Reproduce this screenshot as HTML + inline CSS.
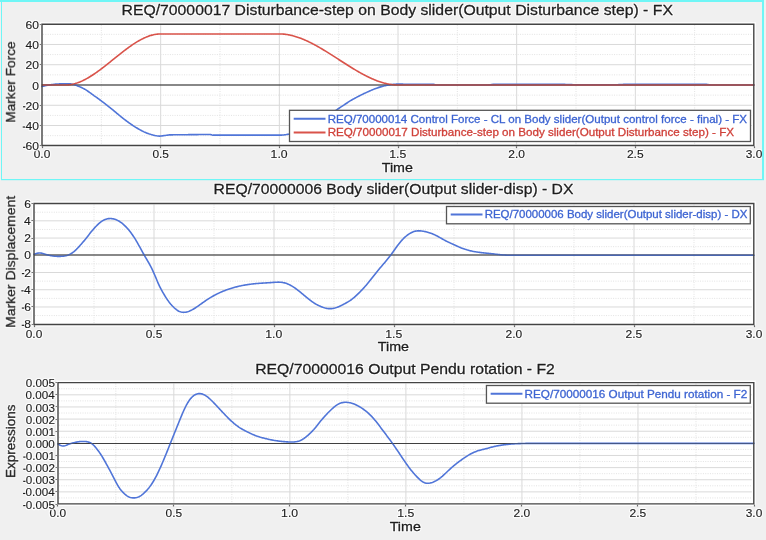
<!DOCTYPE html>
<html><head><meta charset="utf-8"><style>
html,body{margin:0;padding:0;background:#f0f0f0;}
body{-webkit-font-smoothing:antialiased;}
svg{display:block;}
text{font-family:"Liberation Sans", sans-serif;will-change:transform;}
</style></head><body>
<svg width="766" height="540" viewBox="0 0 766 540">
<rect x="0" y="0" width="766" height="540" fill="#f0f0f0"/>
<rect x="40.00" y="22.20" width="715.80" height="125.30" fill="#fff"/>
<line x1="101.33" y1="25.20" x2="101.33" y2="144.50" stroke="#e2e2e2" stroke-width="1" stroke-dasharray="1 1.35"/>
<line x1="160.67" y1="25.20" x2="160.67" y2="144.50" stroke="#d9d9d9" stroke-width="1"/>
<line x1="220.00" y1="25.20" x2="220.00" y2="144.50" stroke="#e2e2e2" stroke-width="1" stroke-dasharray="1 1.35"/>
<line x1="279.33" y1="25.20" x2="279.33" y2="144.50" stroke="#d9d9d9" stroke-width="1"/>
<line x1="338.67" y1="25.20" x2="338.67" y2="144.50" stroke="#e2e2e2" stroke-width="1" stroke-dasharray="1 1.35"/>
<line x1="398.00" y1="25.20" x2="398.00" y2="144.50" stroke="#d9d9d9" stroke-width="1"/>
<line x1="457.33" y1="25.20" x2="457.33" y2="144.50" stroke="#e2e2e2" stroke-width="1" stroke-dasharray="1 1.35"/>
<line x1="516.67" y1="25.20" x2="516.67" y2="144.50" stroke="#d9d9d9" stroke-width="1"/>
<line x1="576.00" y1="25.20" x2="576.00" y2="144.50" stroke="#e2e2e2" stroke-width="1" stroke-dasharray="1 1.35"/>
<line x1="635.33" y1="25.20" x2="635.33" y2="144.50" stroke="#d9d9d9" stroke-width="1"/>
<line x1="694.67" y1="25.20" x2="694.67" y2="144.50" stroke="#e2e2e2" stroke-width="1" stroke-dasharray="1 1.35"/>
<line x1="43.00" y1="34.33" x2="751.80" y2="34.33" stroke="#e2e2e2" stroke-width="1" stroke-dasharray="1 1.35"/>
<line x1="43.00" y1="44.47" x2="751.80" y2="44.47" stroke="#d9d9d9" stroke-width="1"/>
<line x1="43.00" y1="54.60" x2="751.80" y2="54.60" stroke="#e2e2e2" stroke-width="1" stroke-dasharray="1 1.35"/>
<line x1="43.00" y1="64.73" x2="751.80" y2="64.73" stroke="#d9d9d9" stroke-width="1"/>
<line x1="43.00" y1="74.87" x2="751.80" y2="74.87" stroke="#e2e2e2" stroke-width="1" stroke-dasharray="1 1.35"/>
<line x1="43.00" y1="95.13" x2="751.80" y2="95.13" stroke="#e2e2e2" stroke-width="1" stroke-dasharray="1 1.35"/>
<line x1="43.00" y1="105.27" x2="751.80" y2="105.27" stroke="#d9d9d9" stroke-width="1"/>
<line x1="43.00" y1="115.40" x2="751.80" y2="115.40" stroke="#e2e2e2" stroke-width="1" stroke-dasharray="1 1.35"/>
<line x1="43.00" y1="125.53" x2="751.80" y2="125.53" stroke="#d9d9d9" stroke-width="1"/>
<line x1="43.00" y1="135.67" x2="751.80" y2="135.67" stroke="#e2e2e2" stroke-width="1" stroke-dasharray="1 1.35"/>
<line x1="42.00" y1="85.00" x2="753.80" y2="85.00" stroke="#484848" stroke-width="1.2"/>
<path d="M42.00 86.50 L42.79 86.31 L43.58 86.13 L44.37 85.94 L45.16 85.76 L45.96 85.57 L46.75 85.39 L47.54 85.20 L48.33 85.02 L49.12 84.91 L49.91 84.82 L50.70 84.72 L51.49 84.63 L52.28 84.53 L53.08 84.44 L53.87 84.34 L54.66 84.25 L55.45 84.15 L56.24 84.05 L57.03 83.99 L57.82 83.96 L58.61 83.93 L59.40 83.91 L60.20 83.88 L60.99 83.85 L61.78 83.83 L62.57 83.80 L63.36 83.77 L64.15 83.75 L64.94 83.72 L65.73 83.69 L66.52 83.68 L67.32 83.68 L68.11 83.71 L68.90 83.75 L69.69 83.82 L70.48 83.90 L71.27 84.01 L72.06 84.19 L72.85 84.38 L73.64 84.59 L74.44 84.82 L75.23 85.06 L76.02 85.32 L76.81 85.60 L77.60 85.90 L78.39 86.20 L79.18 86.53 L79.97 86.86 L80.76 87.22 L81.56 87.58 L82.35 87.97 L83.14 88.36 L83.93 88.77 L84.72 89.19 L85.51 89.67 L86.30 90.17 L87.09 90.69 L87.88 91.22 L88.68 91.76 L89.47 92.31 L90.26 92.87 L91.05 93.44 L91.84 94.03 L92.63 94.62 L93.42 95.22 L94.21 95.83 L95.00 96.37 L95.80 96.91 L96.59 97.46 L97.38 98.02 L98.17 98.59 L98.96 99.16 L99.75 99.74 L100.54 100.33 L101.33 100.92 L102.12 101.52 L102.92 102.12 L103.71 102.72 L104.50 103.33 L105.29 103.95 L106.08 104.57 L106.87 105.19 L107.66 105.81 L108.45 106.44 L109.24 107.07 L110.04 107.70 L110.83 108.33 L111.62 108.96 L112.41 109.60 L113.20 110.23 L113.99 110.89 L114.78 111.56 L115.57 112.22 L116.36 112.88 L117.16 113.53 L117.95 114.19 L118.74 114.85 L119.53 115.50 L120.32 116.15 L121.11 116.79 L121.90 117.43 L122.69 118.07 L123.48 118.71 L124.28 119.31 L125.07 119.91 L125.86 120.50 L126.65 121.09 L127.44 121.67 L128.23 122.24 L129.02 122.81 L129.81 123.37 L130.60 123.93 L131.40 124.47 L132.19 125.01 L132.98 125.54 L133.77 126.06 L134.56 126.57 L135.35 127.07 L136.14 127.56 L136.93 128.05 L137.72 128.52 L138.52 128.98 L139.31 129.42 L140.10 129.86 L140.89 130.28 L141.68 130.70 L142.47 131.10 L143.26 131.48 L144.05 131.86 L144.84 132.21 L145.64 132.56 L146.43 132.89 L147.22 133.20 L148.01 133.50 L148.80 133.79 L149.59 134.06 L150.38 134.31 L151.17 134.55 L151.96 134.76 L152.76 134.97 L153.55 135.18 L154.34 135.37 L155.13 135.54 L155.92 135.69 L156.71 135.83 L157.50 135.94 L158.29 136.03 L159.08 136.11 L159.88 136.16 L160.67 136.07 L161.46 135.96 L162.25 135.85 L163.04 135.75 L163.83 135.64 L164.62 135.53 L165.41 135.42 L166.20 135.31 L167.00 135.20 L167.79 135.09 L168.58 134.98 L169.37 134.87 L170.16 134.85 L170.95 134.84 L171.74 134.83 L172.53 134.83 L173.32 134.82 L174.12 134.81 L174.91 134.80 L175.70 134.79 L176.49 134.79 L177.28 134.78 L178.07 134.77 L178.86 134.76 L179.65 134.76 L180.44 134.75 L181.24 134.74 L182.03 134.73 L182.82 134.72 L183.61 134.72 L184.40 134.71 L185.19 134.70 L185.98 134.69 L186.77 134.68 L187.56 134.68 L188.36 134.67 L189.15 134.66 L189.94 134.65 L190.73 134.65 L191.52 134.64 L192.31 134.63 L193.10 134.62 L193.89 134.61 L194.68 134.61 L195.48 134.60 L196.27 134.59 L197.06 134.58 L197.85 134.58 L198.64 134.57 L199.43 134.56 L200.22 134.55 L201.01 134.54 L201.80 134.54 L202.60 134.53 L203.39 134.52 L204.18 134.51 L204.97 134.51 L205.76 134.50 L206.55 134.49 L207.34 134.48 L208.13 134.47 L208.92 134.47 L209.72 134.46 L210.51 134.45 L211.30 134.71 L212.09 134.98 L212.88 135.16 L213.67 135.16 L214.46 135.16 L215.25 135.16 L216.04 135.16 L216.84 135.16 L217.63 135.16 L218.42 135.16 L219.21 135.16 L220.00 135.16 L220.79 135.16 L221.58 135.16 L222.37 135.16 L223.16 135.16 L223.96 135.16 L224.75 135.16 L225.54 135.16 L226.33 135.16 L227.12 135.16 L227.91 135.16 L228.70 135.16 L229.49 135.16 L230.28 135.16 L231.08 135.16 L231.87 135.16 L232.66 135.16 L233.45 135.16 L234.24 135.16 L235.03 135.16 L235.82 135.16 L236.61 135.16 L237.40 135.16 L238.20 135.16 L238.99 135.16 L239.78 135.16 L240.57 135.16 L241.36 135.16 L242.15 135.16 L242.94 135.16 L243.73 135.16 L244.52 135.16 L245.32 135.16 L246.11 135.16 L246.90 135.16 L247.69 135.16 L248.48 135.16 L249.27 135.16 L250.06 135.16 L250.85 135.16 L251.64 135.16 L252.44 135.16 L253.23 135.16 L254.02 135.16 L254.81 135.16 L255.60 135.16 L256.39 135.16 L257.18 135.16 L257.97 135.16 L258.76 135.16 L259.56 135.16 L260.35 135.16 L261.14 135.16 L261.93 135.16 L262.72 135.16 L263.51 135.16 L264.30 135.16 L265.09 135.16 L265.88 135.16 L266.68 135.16 L267.47 135.16 L268.26 135.16 L269.05 135.16 L269.84 135.16 L270.63 135.16 L271.42 135.16 L272.21 135.16 L273.00 135.16 L273.80 135.16 L274.59 135.16 L275.38 135.16 L276.17 135.16 L276.96 135.16 L277.75 135.16 L278.54 135.16 L279.33 135.16 L280.12 135.15 L280.92 135.13 L281.71 135.10 L282.50 135.05 L283.29 134.99 L284.08 134.91 L284.87 134.80 L285.66 134.69 L286.45 134.56 L287.24 134.41 L288.04 134.26 L288.83 134.10 L289.62 133.92 L290.41 133.73 L291.20 133.53 L291.99 133.32 L292.78 133.10 L293.57 132.87 L294.36 132.63 L295.16 132.38 L295.95 132.12 L296.74 131.84 L297.53 131.56 L298.32 131.27 L299.11 130.97 L299.90 130.66 L300.69 130.35 L301.48 130.02 L302.28 129.69 L303.07 129.34 L303.86 129.00 L304.65 128.65 L305.44 128.28 L306.23 127.92 L307.02 127.54 L307.81 127.16 L308.60 126.77 L309.40 126.37 L310.19 125.97 L310.98 125.56 L311.77 125.14 L312.56 124.72 L313.35 124.29 L314.14 123.86 L314.93 123.42 L315.72 122.97 L316.52 122.52 L317.31 122.07 L318.10 121.61 L318.89 121.14 L319.68 120.67 L320.47 120.20 L321.26 119.72 L322.05 119.24 L322.84 118.75 L323.64 118.26 L324.43 117.77 L325.22 117.27 L326.01 116.77 L326.80 116.27 L327.59 115.77 L328.38 115.26 L329.17 114.75 L329.96 114.24 L330.76 113.72 L331.55 113.21 L332.34 112.69 L333.13 112.17 L333.92 111.65 L334.71 111.13 L335.50 110.60 L336.29 110.08 L337.08 109.56 L337.88 109.03 L338.67 108.51 L339.46 107.98 L340.25 107.45 L341.04 106.92 L341.83 106.39 L342.62 105.86 L343.41 105.33 L344.20 104.80 L345.00 104.28 L345.79 103.75 L346.58 103.23 L347.37 102.71 L348.16 102.19 L348.95 101.67 L349.74 101.16 L350.53 100.65 L351.32 100.20 L352.12 99.76 L352.91 99.32 L353.70 98.88 L354.49 98.45 L355.28 98.02 L356.07 97.60 L356.86 97.17 L357.65 96.76 L358.44 96.34 L359.24 95.94 L360.03 95.53 L360.82 95.13 L361.61 94.74 L362.40 94.35 L363.19 93.97 L363.98 93.59 L364.77 93.22 L365.56 92.86 L366.36 92.50 L367.15 92.14 L367.94 91.77 L368.73 91.41 L369.52 91.05 L370.31 90.70 L371.10 90.36 L371.89 90.02 L372.68 89.69 L373.48 89.37 L374.27 89.06 L375.06 88.76 L375.85 88.46 L376.64 88.18 L377.43 87.90 L378.22 87.63 L379.01 87.37 L379.80 87.12 L380.60 86.87 L381.39 86.64 L382.18 86.42 L382.97 86.21 L383.76 86.01 L384.55 85.81 L385.34 85.63 L386.13 85.46 L386.92 85.30 L387.72 85.15 L388.51 85.02 L389.30 84.88 L390.09 84.75 L390.88 84.63 L391.67 84.53 L392.46 84.44 L393.25 84.36 L394.04 84.29 L394.84 84.23 L395.63 84.19 L396.42 84.16 L397.21 84.15 L398.00 84.15 L398.79 84.15 L399.58 84.16 L400.37 84.16 L401.16 84.17 L401.96 84.17 L402.75 84.17 L403.54 84.18 L404.33 84.18 L405.12 84.19 L405.91 84.19 L406.70 84.20 L407.49 84.21 L408.28 84.21 L409.08 84.22 L409.87 84.22 L410.66 84.23 L411.45 84.23 L412.24 84.24 L413.03 84.25 L413.82 84.25 L414.61 84.26 L415.40 84.26 L416.20 84.27 L416.99 84.27 L417.78 84.28 L418.57 84.29 L419.36 84.29 L420.15 84.30 L420.94 84.30 L421.73 84.31 L422.52 84.31 L423.32 84.32 L424.11 84.32 L424.90 84.33 L425.69 84.34 L426.48 84.34 L427.27 84.35 L428.06 84.35 L428.85 84.36 L429.64 84.36 L430.44 84.37 L431.23 84.38 L432.02 84.38 L432.81 84.39 L433.60 84.39 L434.39 84.59 L435.18 84.80 L435.97 85.00 L436.76 85.00 L437.56 85.00 L438.35 85.00 L439.14 85.00 L439.93 85.00 L440.72 85.00 L441.51 85.00 L442.30 85.00 L443.09 85.00 L443.88 85.00 L444.68 85.00 L445.47 85.00 L446.26 85.00 L447.05 85.00 L447.84 85.00 L448.63 85.00 L449.42 85.00 L450.21 85.00 L451.00 85.00 L451.80 85.00 L452.59 85.00 L453.38 85.00 L454.17 85.00 L454.96 85.00 L455.75 85.00 L456.54 85.00 L457.33 85.00 L458.12 85.00 L458.92 85.00 L459.71 85.00 L460.50 85.00 L461.29 85.00 L462.08 85.00 L462.87 85.00 L463.66 85.00 L464.45 85.00 L465.24 85.00 L466.04 85.00 L466.83 85.00 L467.62 85.00 L468.41 85.00 L469.20 85.00 L469.99 85.00 L470.78 85.00 L471.57 85.00 L472.36 85.00 L473.16 85.00 L473.95 85.00 L474.74 85.00 L475.53 85.00 L476.32 85.00 L477.11 85.00 L477.90 85.00 L478.69 85.00 L479.48 85.00 L480.28 85.00 L481.07 85.00 L481.86 85.00 L482.65 85.00 L483.44 85.00 L484.23 85.00 L485.02 85.00 L485.81 85.00 L486.60 85.00 L487.40 85.00 L488.19 85.00 L488.98 84.90 L489.77 84.80 L490.56 84.70 L491.35 84.59 L492.14 84.49 L492.93 84.39 L493.72 84.39 L494.52 84.39 L495.31 84.39 L496.10 84.39 L496.89 84.39 L497.68 84.39 L498.47 84.39 L499.26 84.39 L500.05 84.39 L500.84 84.39 L501.64 84.39 L502.43 84.39 L503.22 84.39 L504.01 84.39 L504.80 84.39 L505.59 84.39 L506.38 84.39 L507.17 84.39 L507.96 84.39 L508.76 84.39 L509.55 84.39 L510.34 84.39 L511.13 84.39 L511.92 84.39 L512.71 84.39 L513.50 84.39 L514.29 84.39 L515.08 84.39 L515.88 84.39 L516.67 84.39 L517.46 84.39 L518.25 84.39 L519.04 84.39 L519.83 84.39 L520.62 84.39 L521.41 84.39 L522.20 84.39 L523.00 84.39 L523.79 84.39 L524.58 84.39 L525.37 84.39 L526.16 84.39 L526.95 84.39 L527.74 84.39 L528.53 84.39 L529.32 84.39 L530.12 84.39 L530.91 84.39 L531.70 84.39 L532.49 84.39 L533.28 84.39 L534.07 84.39 L534.86 84.39 L535.65 84.39 L536.44 84.39 L537.24 84.39 L538.03 84.39 L538.82 84.39 L539.61 84.39 L540.40 84.39 L541.19 84.39 L541.98 84.39 L542.77 84.39 L543.56 84.39 L544.36 84.39 L545.15 84.39 L545.94 84.39 L546.73 84.39 L547.52 84.39 L548.31 84.39 L549.10 84.39 L549.89 84.39 L550.68 84.39 L551.48 84.39 L552.27 84.39 L553.06 84.39 L553.85 84.39 L554.64 84.39 L555.43 84.39 L556.22 84.39 L557.01 84.39 L557.80 84.39 L558.60 84.39 L559.39 84.39 L560.18 84.39 L560.97 84.39 L561.76 84.39 L562.55 84.39 L563.34 84.39 L564.13 84.39 L564.92 84.42 L565.72 84.45 L566.51 84.47 L567.30 84.50 L568.09 84.53 L568.88 84.55 L569.67 84.58 L570.46 84.61 L571.25 84.64 L572.04 84.66 L572.84 84.69 L573.63 84.72 L574.42 84.74 L575.21 84.77 L576.00 84.80 L576.79 84.80 L577.58 84.80 L578.37 84.80 L579.16 84.80 L579.96 84.80 L580.75 84.80 L581.54 84.80 L582.33 84.80 L583.12 84.80 L583.91 84.80 L584.70 84.80 L585.49 84.80 L586.28 84.80 L587.08 84.80 L587.87 84.80 L588.66 84.80 L589.45 84.80 L590.24 84.80 L591.03 84.80 L591.82 84.80 L592.61 84.80 L593.40 84.80 L594.20 84.80 L594.99 84.80 L595.78 84.80 L596.57 84.80 L597.36 84.80 L598.15 84.80 L598.94 84.80 L599.73 84.80 L600.52 84.80 L601.32 84.80 L602.11 84.80 L602.90 84.80 L603.69 84.80 L604.48 84.80 L605.27 84.80 L606.06 84.80 L606.85 84.80 L607.64 84.80 L608.44 84.80 L609.23 84.80 L610.02 84.80 L610.81 84.80 L611.60 84.80 L612.39 84.80 L613.18 84.80 L613.97 84.80 L614.76 84.80 L615.56 84.80 L616.35 84.80 L617.14 84.75 L617.93 84.71 L618.72 84.66 L619.51 84.62 L620.30 84.57 L621.09 84.53 L621.88 84.48 L622.68 84.44 L623.47 84.39 L624.26 84.39 L625.05 84.39 L625.84 84.39 L626.63 84.39 L627.42 84.39 L628.21 84.39 L629.00 84.39 L629.80 84.39 L630.59 84.39 L631.38 84.39 L632.17 84.39 L632.96 84.39 L633.75 84.39 L634.54 84.39 L635.33 84.39 L636.12 84.39 L636.92 84.39 L637.71 84.39 L638.50 84.39 L639.29 84.39 L640.08 84.39 L640.87 84.39 L641.66 84.39 L642.45 84.39 L643.24 84.39 L644.04 84.39 L644.83 84.39 L645.62 84.39 L646.41 84.39 L647.20 84.39 L647.99 84.39 L648.78 84.39 L649.57 84.39 L650.36 84.39 L651.16 84.39 L651.95 84.39 L652.74 84.39 L653.53 84.39 L654.32 84.39 L655.11 84.39 L655.90 84.39 L656.69 84.39 L657.48 84.39 L658.28 84.39 L659.07 84.39 L659.86 84.39 L660.65 84.39 L661.44 84.39 L662.23 84.39 L663.02 84.39 L663.81 84.39 L664.60 84.39 L665.40 84.39 L666.19 84.39 L666.98 84.39 L667.77 84.39 L668.56 84.39 L669.35 84.39 L670.14 84.39 L670.93 84.39 L671.72 84.39 L672.52 84.39 L673.31 84.39 L674.10 84.39 L674.89 84.39 L675.68 84.39 L676.47 84.39 L677.26 84.39 L678.05 84.39 L678.84 84.39 L679.64 84.39 L680.43 84.39 L681.22 84.39 L682.01 84.39 L682.80 84.39 L683.59 84.39 L684.38 84.39 L685.17 84.39 L685.96 84.39 L686.76 84.39 L687.55 84.39 L688.34 84.39 L689.13 84.39 L689.92 84.39 L690.71 84.39 L691.50 84.39 L692.29 84.39 L693.08 84.39 L693.88 84.39 L694.67 84.39 L695.46 84.39 L696.25 84.39 L697.04 84.39 L697.83 84.39 L698.62 84.39 L699.41 84.39 L700.20 84.39 L701.00 84.39 L701.79 84.39 L702.58 84.39 L703.37 84.39 L704.16 84.39 L704.95 84.39 L705.74 84.39 L706.53 84.39 L707.32 84.49 L708.12 84.59 L708.91 84.70 L709.70 84.80 L710.49 84.90 L711.28 85.00 L712.07 85.00 L712.86 85.00 L713.65 85.00 L714.44 85.00 L715.24 85.00 L716.03 85.00 L716.82 85.00 L717.61 85.00 L718.40 85.00 L719.19 85.00 L719.98 85.00 L720.77 85.00 L721.56 85.00 L722.36 85.00 L723.15 85.00 L723.94 85.00 L724.73 85.00 L725.52 85.00 L726.31 85.00 L727.10 85.00 L727.89 85.00 L728.68 85.00 L729.48 85.00 L730.27 85.00 L731.06 85.00 L731.85 85.00 L732.64 85.00 L733.43 85.00 L734.22 85.00 L735.01 85.00 L735.80 85.00 L736.60 85.00 L737.39 85.00 L738.18 85.00 L738.97 85.00 L739.76 85.00 L740.55 85.00 L741.34 85.00 L742.13 85.00 L742.92 85.00 L743.72 85.00 L744.51 85.00 L745.30 85.00 L746.09 85.00 L746.88 85.00 L747.67 85.00 L748.46 85.00 L749.25 85.00 L750.04 85.00 L750.84 85.00 L751.63 85.00 L752.42 85.00 L753.21 85.00 L754.00 85.00" fill="none" stroke="#5075d8" stroke-width="1.6" stroke-linejoin="round" stroke-linecap="round" opacity="1"/>
<path d="M42.00 85.00 L42.79 85.00 L43.58 85.00 L44.37 85.00 L45.16 85.00 L45.96 85.00 L46.75 85.00 L47.54 85.00 L48.33 85.00 L49.12 85.00 L49.91 85.00 L50.70 85.00 L51.49 85.00 L52.28 85.00 L53.08 85.00 L53.87 85.00 L54.66 85.00 L55.45 85.00 L56.24 85.00 L57.03 85.00 L57.82 85.00 L58.61 85.00 L59.40 85.00 L60.20 85.00 L60.99 85.00 L61.78 85.00 L62.57 85.00 L63.36 85.00 L64.15 85.00 L64.94 85.00 L65.73 85.00 L66.52 84.99 L67.32 84.96 L68.11 84.91 L68.90 84.83 L69.69 84.74 L70.48 84.63 L71.27 84.50 L72.06 84.35 L72.85 84.18 L73.64 84.00 L74.44 83.79 L75.23 83.57 L76.02 83.33 L76.81 83.08 L77.60 82.81 L78.39 82.52 L79.18 82.22 L79.97 81.90 L80.76 81.56 L81.56 81.22 L82.35 80.86 L83.14 80.48 L83.93 80.09 L84.72 79.69 L85.51 79.27 L86.30 78.85 L87.09 78.41 L87.88 77.96 L88.68 77.49 L89.47 77.02 L90.26 76.54 L91.05 76.04 L91.84 75.54 L92.63 75.02 L93.42 74.50 L94.21 73.97 L95.00 73.43 L95.80 72.88 L96.59 72.32 L97.38 71.76 L98.17 71.19 L98.96 70.61 L99.75 70.03 L100.54 69.44 L101.33 68.84 L102.12 68.24 L102.92 67.63 L103.71 67.02 L104.50 66.41 L105.29 65.79 L106.08 65.17 L106.87 64.54 L107.66 63.91 L108.45 63.28 L109.24 62.65 L110.04 62.01 L110.83 61.38 L111.62 60.74 L112.41 60.10 L113.20 59.46 L113.99 58.83 L114.78 58.19 L115.57 57.55 L116.36 56.91 L117.16 56.28 L117.95 55.65 L118.74 55.02 L119.53 54.39 L120.32 53.76 L121.11 53.14 L121.90 52.52 L122.69 51.91 L123.48 51.29 L124.28 50.69 L125.07 50.09 L125.86 49.49 L126.65 48.90 L127.44 48.32 L128.23 47.74 L129.02 47.17 L129.81 46.61 L130.60 46.05 L131.40 45.50 L132.19 44.96 L132.98 44.43 L133.77 43.90 L134.56 43.39 L135.35 42.89 L136.14 42.39 L136.93 41.91 L137.72 41.43 L138.52 40.97 L139.31 40.52 L140.10 40.08 L140.89 39.65 L141.68 39.24 L142.47 38.84 L143.26 38.45 L144.05 38.07 L144.84 37.71 L145.64 37.36 L146.43 37.03 L147.22 36.71 L148.01 36.41 L148.80 36.12 L149.59 35.85 L150.38 35.60 L151.17 35.36 L151.96 35.14 L152.76 34.93 L153.55 34.75 L154.34 34.58 L155.13 34.43 L155.92 34.30 L156.71 34.19 L157.50 34.09 L158.29 34.02 L159.08 33.97 L159.88 33.94 L160.67 33.93 L161.46 33.93 L162.25 33.93 L163.04 33.93 L163.83 33.93 L164.62 33.93 L165.41 33.93 L166.20 33.93 L167.00 33.93 L167.79 33.93 L168.58 33.93 L169.37 33.93 L170.16 33.93 L170.95 33.93 L171.74 33.93 L172.53 33.93 L173.32 33.93 L174.12 33.93 L174.91 33.93 L175.70 33.93 L176.49 33.93 L177.28 33.93 L178.07 33.93 L178.86 33.93 L179.65 33.93 L180.44 33.93 L181.24 33.93 L182.03 33.93 L182.82 33.93 L183.61 33.93 L184.40 33.93 L185.19 33.93 L185.98 33.93 L186.77 33.93 L187.56 33.93 L188.36 33.93 L189.15 33.93 L189.94 33.93 L190.73 33.93 L191.52 33.93 L192.31 33.93 L193.10 33.93 L193.89 33.93 L194.68 33.93 L195.48 33.93 L196.27 33.93 L197.06 33.93 L197.85 33.93 L198.64 33.93 L199.43 33.93 L200.22 33.93 L201.01 33.93 L201.80 33.93 L202.60 33.93 L203.39 33.93 L204.18 33.93 L204.97 33.93 L205.76 33.93 L206.55 33.93 L207.34 33.93 L208.13 33.93 L208.92 33.93 L209.72 33.93 L210.51 33.93 L211.30 33.93 L212.09 33.93 L212.88 33.93 L213.67 33.93 L214.46 33.93 L215.25 33.93 L216.04 33.93 L216.84 33.93 L217.63 33.93 L218.42 33.93 L219.21 33.93 L220.00 33.93 L220.79 33.93 L221.58 33.93 L222.37 33.93 L223.16 33.93 L223.96 33.93 L224.75 33.93 L225.54 33.93 L226.33 33.93 L227.12 33.93 L227.91 33.93 L228.70 33.93 L229.49 33.93 L230.28 33.93 L231.08 33.93 L231.87 33.93 L232.66 33.93 L233.45 33.93 L234.24 33.93 L235.03 33.93 L235.82 33.93 L236.61 33.93 L237.40 33.93 L238.20 33.93 L238.99 33.93 L239.78 33.93 L240.57 33.93 L241.36 33.93 L242.15 33.93 L242.94 33.93 L243.73 33.93 L244.52 33.93 L245.32 33.93 L246.11 33.93 L246.90 33.93 L247.69 33.93 L248.48 33.93 L249.27 33.93 L250.06 33.93 L250.85 33.93 L251.64 33.93 L252.44 33.93 L253.23 33.93 L254.02 33.93 L254.81 33.93 L255.60 33.93 L256.39 33.93 L257.18 33.93 L257.97 33.93 L258.76 33.93 L259.56 33.93 L260.35 33.93 L261.14 33.93 L261.93 33.93 L262.72 33.93 L263.51 33.93 L264.30 33.93 L265.09 33.93 L265.88 33.93 L266.68 33.93 L267.47 33.93 L268.26 33.93 L269.05 33.93 L269.84 33.93 L270.63 33.93 L271.42 33.93 L272.21 33.93 L273.00 33.93 L273.80 33.93 L274.59 33.93 L275.38 33.93 L276.17 33.93 L276.96 33.93 L277.75 33.93 L278.54 33.93 L279.33 33.93 L280.12 33.93 L280.92 33.95 L281.71 33.99 L282.50 34.04 L283.29 34.09 L284.08 34.17 L284.87 34.25 L285.66 34.35 L286.45 34.46 L287.24 34.58 L288.04 34.71 L288.83 34.86 L289.62 35.01 L290.41 35.18 L291.20 35.36 L291.99 35.55 L292.78 35.75 L293.57 35.96 L294.36 36.18 L295.16 36.41 L295.95 36.65 L296.74 36.90 L297.53 37.16 L298.32 37.43 L299.11 37.71 L299.90 38.00 L300.69 38.30 L301.48 38.60 L302.28 38.92 L303.07 39.24 L303.86 39.57 L304.65 39.91 L305.44 40.26 L306.23 40.61 L307.02 40.97 L307.81 41.34 L308.60 41.72 L309.40 42.10 L310.19 42.49 L310.98 42.89 L311.77 43.29 L312.56 43.70 L313.35 44.11 L314.14 44.53 L314.93 44.96 L315.72 45.39 L316.52 45.83 L317.31 46.27 L318.10 46.72 L318.89 47.17 L319.68 47.63 L320.47 48.09 L321.26 48.55 L322.05 49.02 L322.84 49.49 L323.64 49.97 L324.43 50.45 L325.22 50.93 L326.01 51.42 L326.80 51.91 L327.59 52.40 L328.38 52.89 L329.17 53.39 L329.96 53.89 L330.76 54.39 L331.55 54.89 L332.34 55.39 L333.13 55.90 L333.92 56.41 L334.71 56.91 L335.50 57.42 L336.29 57.93 L337.08 58.44 L337.88 58.95 L338.67 59.46 L339.46 59.97 L340.25 60.49 L341.04 61.00 L341.83 61.50 L342.62 62.01 L343.41 62.52 L344.20 63.03 L345.00 63.53 L345.79 64.04 L346.58 64.54 L347.37 65.04 L348.16 65.54 L348.95 66.04 L349.74 66.53 L350.53 67.02 L351.32 67.51 L352.12 68.00 L352.91 68.48 L353.70 68.96 L354.49 69.44 L355.28 69.91 L356.07 70.38 L356.86 70.84 L357.65 71.30 L358.44 71.76 L359.24 72.21 L360.03 72.66 L360.82 73.10 L361.61 73.54 L362.40 73.97 L363.19 74.39 L363.98 74.82 L364.77 75.23 L365.56 75.64 L366.36 76.04 L367.15 76.44 L367.94 76.83 L368.73 77.21 L369.52 77.59 L370.31 77.96 L371.10 78.32 L371.89 78.67 L372.68 79.02 L373.48 79.36 L374.27 79.69 L375.06 80.01 L375.85 80.33 L376.64 80.63 L377.43 80.93 L378.22 81.22 L379.01 81.50 L379.80 81.77 L380.60 82.03 L381.39 82.28 L382.18 82.52 L382.97 82.75 L383.76 82.97 L384.55 83.18 L385.34 83.38 L386.13 83.57 L386.92 83.75 L387.72 83.92 L388.51 84.07 L389.30 84.22 L390.09 84.35 L390.88 84.47 L391.67 84.58 L392.46 84.68 L393.25 84.76 L394.04 84.83 L394.84 84.89 L395.63 84.94 L396.42 84.97 L397.21 84.99 L398.00 85.00 L398.79 85.00 L399.58 85.00 L400.37 85.00 L401.16 85.00 L401.96 85.00 L402.75 85.00 L403.54 85.00 L404.33 85.00 L405.12 85.00 L405.91 85.00 L406.70 85.00 L407.49 85.00 L408.28 85.00 L409.08 85.00 L409.87 85.00 L410.66 85.00 L411.45 85.00 L412.24 85.00 L413.03 85.00 L413.82 85.00 L414.61 85.00 L415.40 85.00 L416.20 85.00 L416.99 85.00 L417.78 85.00 L418.57 85.00 L419.36 85.00 L420.15 85.00 L420.94 85.00 L421.73 85.00 L422.52 85.00 L423.32 85.00 L424.11 85.00 L424.90 85.00 L425.69 85.00 L426.48 85.00 L427.27 85.00 L428.06 85.00 L428.85 85.00 L429.64 85.00 L430.44 85.00 L431.23 85.00 L432.02 85.00 L432.81 85.00 L433.60 85.00 L434.39 85.00 L435.18 85.00 L435.97 85.00 L436.76 85.00 L437.56 85.00 L438.35 85.00 L439.14 85.00 L439.93 85.00 L440.72 85.00 L441.51 85.00 L442.30 85.00 L443.09 85.00 L443.88 85.00 L444.68 85.00 L445.47 85.00 L446.26 85.00 L447.05 85.00 L447.84 85.00 L448.63 85.00 L449.42 85.00 L450.21 85.00 L451.00 85.00 L451.80 85.00 L452.59 85.00 L453.38 85.00 L454.17 85.00 L454.96 85.00 L455.75 85.00 L456.54 85.00 L457.33 85.00 L458.12 85.00 L458.92 85.00 L459.71 85.00 L460.50 85.00 L461.29 85.00 L462.08 85.00 L462.87 85.00 L463.66 85.00 L464.45 85.00 L465.24 85.00 L466.04 85.00 L466.83 85.00 L467.62 85.00 L468.41 85.00 L469.20 85.00 L469.99 85.00 L470.78 85.00 L471.57 85.00 L472.36 85.00 L473.16 85.00 L473.95 85.00 L474.74 85.00 L475.53 85.00 L476.32 85.00 L477.11 85.00 L477.90 85.00 L478.69 85.00 L479.48 85.00 L480.28 85.00 L481.07 85.00 L481.86 85.00 L482.65 85.00 L483.44 85.00 L484.23 85.00 L485.02 85.00 L485.81 85.00 L486.60 85.00 L487.40 85.00 L488.19 85.00 L488.98 85.00 L489.77 85.00 L490.56 85.00 L491.35 85.00 L492.14 85.00 L492.93 85.00 L493.72 85.00 L494.52 85.00 L495.31 85.00 L496.10 85.00 L496.89 85.00 L497.68 85.00 L498.47 85.00 L499.26 85.00 L500.05 85.00 L500.84 85.00 L501.64 85.00 L502.43 85.00 L503.22 85.00 L504.01 85.00 L504.80 85.00 L505.59 85.00 L506.38 85.00 L507.17 85.00 L507.96 85.00 L508.76 85.00 L509.55 85.00 L510.34 85.00 L511.13 85.00 L511.92 85.00 L512.71 85.00 L513.50 85.00 L514.29 85.00 L515.08 85.00 L515.88 85.00 L516.67 85.00 L517.46 85.00 L518.25 85.00 L519.04 85.00 L519.83 85.00 L520.62 85.00 L521.41 85.00 L522.20 85.00 L523.00 85.00 L523.79 85.00 L524.58 85.00 L525.37 85.00 L526.16 85.00 L526.95 85.00 L527.74 85.00 L528.53 85.00 L529.32 85.00 L530.12 85.00 L530.91 85.00 L531.70 85.00 L532.49 85.00 L533.28 85.00 L534.07 85.00 L534.86 85.00 L535.65 85.00 L536.44 85.00 L537.24 85.00 L538.03 85.00 L538.82 85.00 L539.61 85.00 L540.40 85.00 L541.19 85.00 L541.98 85.00 L542.77 85.00 L543.56 85.00 L544.36 85.00 L545.15 85.00 L545.94 85.00 L546.73 85.00 L547.52 85.00 L548.31 85.00 L549.10 85.00 L549.89 85.00 L550.68 85.00 L551.48 85.00 L552.27 85.00 L553.06 85.00 L553.85 85.00 L554.64 85.00 L555.43 85.00 L556.22 85.00 L557.01 85.00 L557.80 85.00 L558.60 85.00 L559.39 85.00 L560.18 85.00 L560.97 85.00 L561.76 85.00 L562.55 85.00 L563.34 85.00 L564.13 85.00 L564.92 85.00 L565.72 85.00 L566.51 85.00 L567.30 85.00 L568.09 85.00 L568.88 85.00 L569.67 85.00 L570.46 85.00 L571.25 85.00 L572.04 85.00 L572.84 85.00 L573.63 85.00 L574.42 85.00 L575.21 85.00 L576.00 85.00 L576.79 85.00 L577.58 85.00 L578.37 85.00 L579.16 85.00 L579.96 85.00 L580.75 85.00 L581.54 85.00 L582.33 85.00 L583.12 85.00 L583.91 85.00 L584.70 85.00 L585.49 85.00 L586.28 85.00 L587.08 85.00 L587.87 85.00 L588.66 85.00 L589.45 85.00 L590.24 85.00 L591.03 85.00 L591.82 85.00 L592.61 85.00 L593.40 85.00 L594.20 85.00 L594.99 85.00 L595.78 85.00 L596.57 85.00 L597.36 85.00 L598.15 85.00 L598.94 85.00 L599.73 85.00 L600.52 85.00 L601.32 85.00 L602.11 85.00 L602.90 85.00 L603.69 85.00 L604.48 85.00 L605.27 85.00 L606.06 85.00 L606.85 85.00 L607.64 85.00 L608.44 85.00 L609.23 85.00 L610.02 85.00 L610.81 85.00 L611.60 85.00 L612.39 85.00 L613.18 85.00 L613.97 85.00 L614.76 85.00 L615.56 85.00 L616.35 85.00 L617.14 85.00 L617.93 85.00 L618.72 85.00 L619.51 85.00 L620.30 85.00 L621.09 85.00 L621.88 85.00 L622.68 85.00 L623.47 85.00 L624.26 85.00 L625.05 85.00 L625.84 85.00 L626.63 85.00 L627.42 85.00 L628.21 85.00 L629.00 85.00 L629.80 85.00 L630.59 85.00 L631.38 85.00 L632.17 85.00 L632.96 85.00 L633.75 85.00 L634.54 85.00 L635.33 85.00 L636.12 85.00 L636.92 85.00 L637.71 85.00 L638.50 85.00 L639.29 85.00 L640.08 85.00 L640.87 85.00 L641.66 85.00 L642.45 85.00 L643.24 85.00 L644.04 85.00 L644.83 85.00 L645.62 85.00 L646.41 85.00 L647.20 85.00 L647.99 85.00 L648.78 85.00 L649.57 85.00 L650.36 85.00 L651.16 85.00 L651.95 85.00 L652.74 85.00 L653.53 85.00 L654.32 85.00 L655.11 85.00 L655.90 85.00 L656.69 85.00 L657.48 85.00 L658.28 85.00 L659.07 85.00 L659.86 85.00 L660.65 85.00 L661.44 85.00 L662.23 85.00 L663.02 85.00 L663.81 85.00 L664.60 85.00 L665.40 85.00 L666.19 85.00 L666.98 85.00 L667.77 85.00 L668.56 85.00 L669.35 85.00 L670.14 85.00 L670.93 85.00 L671.72 85.00 L672.52 85.00 L673.31 85.00 L674.10 85.00 L674.89 85.00 L675.68 85.00 L676.47 85.00 L677.26 85.00 L678.05 85.00 L678.84 85.00 L679.64 85.00 L680.43 85.00 L681.22 85.00 L682.01 85.00 L682.80 85.00 L683.59 85.00 L684.38 85.00 L685.17 85.00 L685.96 85.00 L686.76 85.00 L687.55 85.00 L688.34 85.00 L689.13 85.00 L689.92 85.00 L690.71 85.00 L691.50 85.00 L692.29 85.00 L693.08 85.00 L693.88 85.00 L694.67 85.00 L695.46 85.00 L696.25 85.00 L697.04 85.00 L697.83 85.00 L698.62 85.00 L699.41 85.00 L700.20 85.00 L701.00 85.00 L701.79 85.00 L702.58 85.00 L703.37 85.00 L704.16 85.00 L704.95 85.00 L705.74 85.00 L706.53 85.00 L707.32 85.00 L708.12 85.00 L708.91 85.00 L709.70 85.00 L710.49 85.00 L711.28 85.00 L712.07 85.00 L712.86 85.00 L713.65 85.00 L714.44 85.00 L715.24 85.00 L716.03 85.00 L716.82 85.00 L717.61 85.00 L718.40 85.00 L719.19 85.00 L719.98 85.00 L720.77 85.00 L721.56 85.00 L722.36 85.00 L723.15 85.00 L723.94 85.00 L724.73 85.00 L725.52 85.00 L726.31 85.00 L727.10 85.00 L727.89 85.00 L728.68 85.00 L729.48 85.00 L730.27 85.00 L731.06 85.00 L731.85 85.00 L732.64 85.00 L733.43 85.00 L734.22 85.00 L735.01 85.00 L735.80 85.00 L736.60 85.00 L737.39 85.00 L738.18 85.00 L738.97 85.00 L739.76 85.00 L740.55 85.00 L741.34 85.00 L742.13 85.00 L742.92 85.00 L743.72 85.00 L744.51 85.00 L745.30 85.00 L746.09 85.00 L746.88 85.00 L747.67 85.00 L748.46 85.00 L749.25 85.00 L750.04 85.00 L750.84 85.00 L751.63 85.00 L752.42 85.00 L753.21 85.00 L754.00 85.00" fill="none" stroke="#d9534a" stroke-width="1.6" stroke-linejoin="round" stroke-linecap="round" opacity="1"/>
<line x1="42.00" y1="85.00" x2="753.80" y2="85.00" stroke="#3a3a3a" stroke-width="1.2" opacity="0.5"/>
<path d="M42.00 24.20 H753.80 V145.50 H42.00 Z" fill="none" stroke="#444" stroke-width="1.4"/>
<line x1="42.50" y1="146.20" x2="42.50" y2="148.10" stroke="#6a6a6a" stroke-width="1.2"/>
<line x1="160.50" y1="146.20" x2="160.50" y2="148.10" stroke="#6a6a6a" stroke-width="1.2"/>
<line x1="279.50" y1="146.20" x2="279.50" y2="148.10" stroke="#6a6a6a" stroke-width="1.2"/>
<line x1="398.50" y1="146.20" x2="398.50" y2="148.10" stroke="#6a6a6a" stroke-width="1.2"/>
<line x1="516.50" y1="146.20" x2="516.50" y2="148.10" stroke="#6a6a6a" stroke-width="1.2"/>
<line x1="635.50" y1="146.20" x2="635.50" y2="148.10" stroke="#6a6a6a" stroke-width="1.2"/>
<line x1="754.50" y1="146.20" x2="754.50" y2="148.10" stroke="#6a6a6a" stroke-width="1.2"/>
<line x1="39.40" y1="44.50" x2="41.30" y2="44.50" stroke="#7a7a7a" stroke-width="1.1"/>
<line x1="39.40" y1="64.50" x2="41.30" y2="64.50" stroke="#7a7a7a" stroke-width="1.1"/>
<line x1="39.40" y1="105.50" x2="41.30" y2="105.50" stroke="#7a7a7a" stroke-width="1.1"/>
<line x1="39.40" y1="125.50" x2="41.30" y2="125.50" stroke="#7a7a7a" stroke-width="1.1"/>
<line x1="39.40" y1="24.50" x2="41.30" y2="24.50" stroke="#7a7a7a" stroke-width="1.1"/>
<line x1="39.40" y1="145.50" x2="41.30" y2="145.50" stroke="#7a7a7a" stroke-width="1.1"/>
<text x="33.74" y="158.00" font-size="11.40" textLength="16.53" lengthAdjust="spacingAndGlyphs" fill="#fff" stroke="#fff" stroke-opacity="0.8" stroke-width="2.4" stroke-linejoin="round">0.0</text>
<text x="33.74" y="158.00" font-size="11.40" textLength="16.53" lengthAdjust="spacingAndGlyphs" fill="#1e1e1e" stroke="#1e1e1e" stroke-width="0.15">0.0</text>
<text x="152.40" y="158.00" font-size="11.40" textLength="16.57" lengthAdjust="spacingAndGlyphs" fill="#fff" stroke="#fff" stroke-opacity="0.8" stroke-width="2.4" stroke-linejoin="round">0.5</text>
<text x="152.40" y="158.00" font-size="11.40" textLength="16.57" lengthAdjust="spacingAndGlyphs" fill="#1e1e1e" stroke="#1e1e1e" stroke-width="0.15">0.5</text>
<text x="270.60" y="158.00" font-size="11.40" textLength="17.01" lengthAdjust="spacingAndGlyphs" fill="#fff" stroke="#fff" stroke-opacity="0.8" stroke-width="2.4" stroke-linejoin="round">1.0</text>
<text x="270.60" y="158.00" font-size="11.40" textLength="17.01" lengthAdjust="spacingAndGlyphs" fill="#1e1e1e" stroke="#1e1e1e" stroke-width="0.15">1.0</text>
<text x="389.27" y="158.00" font-size="11.40" textLength="17.05" lengthAdjust="spacingAndGlyphs" fill="#fff" stroke="#fff" stroke-opacity="0.8" stroke-width="2.4" stroke-linejoin="round">1.5</text>
<text x="389.27" y="158.00" font-size="11.40" textLength="17.05" lengthAdjust="spacingAndGlyphs" fill="#1e1e1e" stroke="#1e1e1e" stroke-width="0.15">1.5</text>
<text x="508.26" y="158.00" font-size="11.40" textLength="16.67" lengthAdjust="spacingAndGlyphs" fill="#fff" stroke="#fff" stroke-opacity="0.8" stroke-width="2.4" stroke-linejoin="round">2.0</text>
<text x="508.26" y="158.00" font-size="11.40" textLength="16.67" lengthAdjust="spacingAndGlyphs" fill="#1e1e1e" stroke="#1e1e1e" stroke-width="0.15">2.0</text>
<text x="626.93" y="158.00" font-size="11.40" textLength="16.71" lengthAdjust="spacingAndGlyphs" fill="#fff" stroke="#fff" stroke-opacity="0.8" stroke-width="2.4" stroke-linejoin="round">2.5</text>
<text x="626.93" y="158.00" font-size="11.40" textLength="16.71" lengthAdjust="spacingAndGlyphs" fill="#1e1e1e" stroke="#1e1e1e" stroke-width="0.15">2.5</text>
<text x="745.75" y="158.00" font-size="11.40" textLength="16.52" lengthAdjust="spacingAndGlyphs" fill="#fff" stroke="#fff" stroke-opacity="0.8" stroke-width="2.4" stroke-linejoin="round">3.0</text>
<text x="745.75" y="158.00" font-size="11.40" textLength="16.52" lengthAdjust="spacingAndGlyphs" fill="#1e1e1e" stroke="#1e1e1e" stroke-width="0.15">3.0</text>
<text x="25.43" y="28.70" font-size="11.40" textLength="13.44" lengthAdjust="spacingAndGlyphs" fill="#fff" stroke="#fff" stroke-opacity="0.8" stroke-width="2.4" stroke-linejoin="round">60</text>
<text x="25.43" y="28.70" font-size="11.40" textLength="13.44" lengthAdjust="spacingAndGlyphs" fill="#1e1e1e" stroke="#1e1e1e" stroke-width="0.15">60</text>
<text x="25.43" y="48.97" font-size="11.40" textLength="13.44" lengthAdjust="spacingAndGlyphs" fill="#fff" stroke="#fff" stroke-opacity="0.8" stroke-width="2.4" stroke-linejoin="round">40</text>
<text x="25.43" y="48.97" font-size="11.40" textLength="13.44" lengthAdjust="spacingAndGlyphs" fill="#1e1e1e" stroke="#1e1e1e" stroke-width="0.15">40</text>
<text x="25.43" y="69.23" font-size="11.40" textLength="13.44" lengthAdjust="spacingAndGlyphs" fill="#fff" stroke="#fff" stroke-opacity="0.8" stroke-width="2.4" stroke-linejoin="round">20</text>
<text x="25.43" y="69.23" font-size="11.40" textLength="13.44" lengthAdjust="spacingAndGlyphs" fill="#1e1e1e" stroke="#1e1e1e" stroke-width="0.15">20</text>
<text x="32.15" y="89.50" font-size="11.40" textLength="6.72" lengthAdjust="spacingAndGlyphs" fill="#fff" stroke="#fff" stroke-opacity="0.8" stroke-width="2.4" stroke-linejoin="round">0</text>
<text x="32.15" y="89.50" font-size="11.40" textLength="6.72" lengthAdjust="spacingAndGlyphs" fill="#1e1e1e" stroke="#1e1e1e" stroke-width="0.15">0</text>
<text x="25.43" y="109.77" font-size="11.40" textLength="13.44" lengthAdjust="spacingAndGlyphs" fill="#fff" stroke="#fff" stroke-opacity="0.8" stroke-width="2.4" stroke-linejoin="round">20</text>
<text x="25.43" y="109.77" font-size="11.40" textLength="13.44" lengthAdjust="spacingAndGlyphs" fill="#1e1e1e" stroke="#1e1e1e" stroke-width="0.15">20</text>
<rect x="22.84" y="105.17" width="2.6" height="3.2" fill="#fff" opacity="0.7"/>
<rect x="23.04" y="106.17" width="2.3" height="1.2" fill="#1e1e1e"/>
<text x="25.43" y="130.03" font-size="11.40" textLength="13.44" lengthAdjust="spacingAndGlyphs" fill="#fff" stroke="#fff" stroke-opacity="0.8" stroke-width="2.4" stroke-linejoin="round">40</text>
<text x="25.43" y="130.03" font-size="11.40" textLength="13.44" lengthAdjust="spacingAndGlyphs" fill="#1e1e1e" stroke="#1e1e1e" stroke-width="0.15">40</text>
<rect x="22.51" y="125.43" width="2.6" height="3.2" fill="#fff" opacity="0.7"/>
<rect x="22.71" y="126.43" width="2.3" height="1.2" fill="#1e1e1e"/>
<text x="25.43" y="150.30" font-size="11.40" textLength="13.44" lengthAdjust="spacingAndGlyphs" fill="#fff" stroke="#fff" stroke-opacity="0.8" stroke-width="2.4" stroke-linejoin="round">60</text>
<text x="25.43" y="150.30" font-size="11.40" textLength="13.44" lengthAdjust="spacingAndGlyphs" fill="#1e1e1e" stroke="#1e1e1e" stroke-width="0.15">60</text>
<rect x="22.84" y="145.70" width="2.6" height="3.2" fill="#fff" opacity="0.7"/>
<rect x="23.04" y="146.70" width="2.3" height="1.2" fill="#1e1e1e"/>
<text x="381.79" y="172.00" font-size="13.20" textLength="31.14" lengthAdjust="spacingAndGlyphs" fill="#fff" stroke="#fff" stroke-opacity="0.8" stroke-width="2.4" stroke-linejoin="round">Time</text>
<text x="381.79" y="172.00" font-size="13.20" textLength="31.14" lengthAdjust="spacingAndGlyphs" fill="#1e1e1e" stroke="#1e1e1e" stroke-width="0.30">Time</text>
<text transform="translate(15.10 122.72) rotate(-90)" x="0" y="0" font-size="13.10" textLength="81.43" lengthAdjust="spacingAndGlyphs" fill="#fff" stroke="#fff" stroke-opacity="0.8" stroke-width="2.4" stroke-linejoin="round">Marker Force</text>
<text transform="translate(15.10 122.72) rotate(-90)" x="0" y="0" font-size="13.10" textLength="81.43" lengthAdjust="spacingAndGlyphs" fill="#1e1e1e" stroke="#1e1e1e" stroke-width="0.30">Marker Force</text>
<text x="121.51" y="15.30" font-size="15.50" textLength="551.42" lengthAdjust="spacingAndGlyphs" fill="#fff" stroke="#fff" stroke-opacity="0.8" stroke-width="2.4" stroke-linejoin="round">REQ/70000017 Disturbance-step on Body slider(Output Disturbance step) - FX</text>
<text x="121.51" y="15.30" font-size="15.50" textLength="551.42" lengthAdjust="spacingAndGlyphs" fill="#1e1e1e" stroke="#1e1e1e" stroke-width="0.30">REQ/70000017 Disturbance-step on Body slider(Output Disturbance step) - FX</text>
<rect x="289.50" y="110.30" width="461.00" height="31.20" fill="#fff" stroke="#555" stroke-width="1.3"/>
<line x1="293.70" y1="118.80" x2="325.50" y2="118.80" stroke="#5075d8" stroke-width="2"/>
<text x="327.65" y="122.60" font-size="11.00" textLength="419.39" lengthAdjust="spacingAndGlyphs" fill="#3d64d2" stroke="#3d64d2" stroke-width="0.30">REQ/70000014 Control Force - CL on Body slider(Output control force - final) - FX</text>
<line x1="293.70" y1="132.60" x2="325.50" y2="132.60" stroke="#d9534a" stroke-width="2"/>
<text x="327.65" y="136.40" font-size="11.00" textLength="406.40" lengthAdjust="spacingAndGlyphs" fill="#d0413a" stroke="#d0413a" stroke-width="0.30">REQ/70000017 Disturbance-step on Body slider(Output Disturbance step) - FX</text>
<rect x="32.00" y="201.50" width="723.80" height="125.00" fill="#fff"/>
<line x1="94.00" y1="204.50" x2="94.00" y2="323.50" stroke="#e2e2e2" stroke-width="1" stroke-dasharray="1 1.35"/>
<line x1="154.00" y1="204.50" x2="154.00" y2="323.50" stroke="#d9d9d9" stroke-width="1"/>
<line x1="214.00" y1="204.50" x2="214.00" y2="323.50" stroke="#e2e2e2" stroke-width="1" stroke-dasharray="1 1.35"/>
<line x1="274.00" y1="204.50" x2="274.00" y2="323.50" stroke="#d9d9d9" stroke-width="1"/>
<line x1="334.00" y1="204.50" x2="334.00" y2="323.50" stroke="#e2e2e2" stroke-width="1" stroke-dasharray="1 1.35"/>
<line x1="394.00" y1="204.50" x2="394.00" y2="323.50" stroke="#d9d9d9" stroke-width="1"/>
<line x1="454.00" y1="204.50" x2="454.00" y2="323.50" stroke="#e2e2e2" stroke-width="1" stroke-dasharray="1 1.35"/>
<line x1="514.00" y1="204.50" x2="514.00" y2="323.50" stroke="#d9d9d9" stroke-width="1"/>
<line x1="574.00" y1="204.50" x2="574.00" y2="323.50" stroke="#e2e2e2" stroke-width="1" stroke-dasharray="1 1.35"/>
<line x1="634.00" y1="204.50" x2="634.00" y2="323.50" stroke="#d9d9d9" stroke-width="1"/>
<line x1="694.00" y1="204.50" x2="694.00" y2="323.50" stroke="#e2e2e2" stroke-width="1" stroke-dasharray="1 1.35"/>
<line x1="35.00" y1="212.21" x2="751.80" y2="212.21" stroke="#e2e2e2" stroke-width="1" stroke-dasharray="1 1.35"/>
<line x1="35.00" y1="220.83" x2="751.80" y2="220.83" stroke="#d9d9d9" stroke-width="1"/>
<line x1="35.00" y1="229.44" x2="751.80" y2="229.44" stroke="#e2e2e2" stroke-width="1" stroke-dasharray="1 1.35"/>
<line x1="35.00" y1="238.06" x2="751.80" y2="238.06" stroke="#d9d9d9" stroke-width="1"/>
<line x1="35.00" y1="246.67" x2="751.80" y2="246.67" stroke="#e2e2e2" stroke-width="1" stroke-dasharray="1 1.35"/>
<line x1="35.00" y1="263.90" x2="751.80" y2="263.90" stroke="#e2e2e2" stroke-width="1" stroke-dasharray="1 1.35"/>
<line x1="35.00" y1="272.51" x2="751.80" y2="272.51" stroke="#d9d9d9" stroke-width="1"/>
<line x1="35.00" y1="281.13" x2="751.80" y2="281.13" stroke="#e2e2e2" stroke-width="1" stroke-dasharray="1 1.35"/>
<line x1="35.00" y1="289.74" x2="751.80" y2="289.74" stroke="#d9d9d9" stroke-width="1"/>
<line x1="35.00" y1="298.36" x2="751.80" y2="298.36" stroke="#e2e2e2" stroke-width="1" stroke-dasharray="1 1.35"/>
<line x1="35.00" y1="306.97" x2="751.80" y2="306.97" stroke="#d9d9d9" stroke-width="1"/>
<line x1="35.00" y1="315.59" x2="751.80" y2="315.59" stroke="#e2e2e2" stroke-width="1" stroke-dasharray="1 1.35"/>
<line x1="34.00" y1="255.00" x2="753.80" y2="255.00" stroke="#484848" stroke-width="1.2"/>
<path d="M34.00 254.33 L34.80 254.04 L35.60 253.76 L36.40 253.50 L37.20 253.29 L38.00 253.12 L38.80 253.01 L39.60 252.98 L40.40 253.02 L41.20 253.13 L42.00 253.29 L42.80 253.49 L43.60 253.71 L44.40 253.96 L45.20 254.21 L46.00 254.45 L46.80 254.68 L47.60 254.90 L48.40 255.10 L49.20 255.29 L50.00 255.46 L50.80 255.62 L51.60 255.77 L52.40 255.90 L53.20 256.01 L54.00 256.10 L54.80 256.18 L55.60 256.25 L56.40 256.30 L57.20 256.34 L58.00 256.36 L58.80 256.37 L59.60 256.36 L60.40 256.34 L61.20 256.31 L62.00 256.27 L62.80 256.20 L63.60 256.11 L64.40 255.99 L65.20 255.84 L66.00 255.66 L66.80 255.44 L67.60 255.19 L68.40 254.89 L69.20 254.55 L70.00 254.17 L70.80 253.74 L71.60 253.26 L72.40 252.73 L73.20 252.16 L74.00 251.53 L74.80 250.85 L75.60 250.12 L76.40 249.35 L77.20 248.54 L78.00 247.71 L78.80 246.85 L79.60 245.97 L80.40 245.08 L81.20 244.17 L82.00 243.25 L82.80 242.32 L83.60 241.38 L84.40 240.42 L85.20 239.45 L86.00 238.46 L86.80 237.45 L87.60 236.43 L88.40 235.40 L89.20 234.37 L90.00 233.35 L90.80 232.34 L91.60 231.35 L92.40 230.39 L93.20 229.45 L94.00 228.53 L94.80 227.65 L95.60 226.79 L96.40 225.96 L97.20 225.17 L98.00 224.40 L98.80 223.67 L99.60 222.98 L100.40 222.32 L101.20 221.71 L102.00 221.15 L102.80 220.64 L103.60 220.19 L104.40 219.79 L105.20 219.45 L106.00 219.17 L106.80 218.95 L107.60 218.78 L108.40 218.65 L109.20 218.58 L110.00 218.55 L110.80 218.56 L111.60 218.62 L112.40 218.72 L113.20 218.86 L114.00 219.05 L114.80 219.28 L115.60 219.55 L116.40 219.86 L117.20 220.22 L118.00 220.62 L118.80 221.06 L119.60 221.54 L120.40 222.06 L121.20 222.63 L122.00 223.23 L122.80 223.88 L123.60 224.57 L124.40 225.30 L125.20 226.07 L126.00 226.88 L126.80 227.73 L127.60 228.63 L128.40 229.56 L129.20 230.54 L130.00 231.55 L130.80 232.60 L131.60 233.68 L132.40 234.81 L133.20 235.97 L134.00 237.17 L134.80 238.41 L135.60 239.70 L136.40 241.04 L137.20 242.42 L138.00 243.83 L138.80 245.27 L139.60 246.73 L140.40 248.20 L141.20 249.67 L142.00 251.13 L142.80 252.58 L143.60 254.01 L144.40 255.42 L145.20 256.79 L146.00 258.16 L146.80 259.51 L147.60 260.88 L148.40 262.26 L149.20 263.67 L150.00 265.13 L150.80 266.63 L151.60 268.19 L152.40 269.83 L153.20 271.55 L154.00 273.35 L154.80 275.22 L155.60 277.13 L156.40 279.05 L157.20 280.95 L158.00 282.81 L158.80 284.61 L159.60 286.31 L160.40 287.92 L161.20 289.45 L162.00 290.90 L162.80 292.31 L163.60 293.67 L164.40 295.00 L165.20 296.31 L166.00 297.59 L166.80 298.83 L167.60 300.03 L168.40 301.16 L169.20 302.24 L170.00 303.24 L170.80 304.19 L171.60 305.09 L172.40 305.95 L173.20 306.76 L174.00 307.54 L174.80 308.28 L175.60 308.98 L176.40 309.63 L177.20 310.22 L178.00 310.74 L178.80 311.19 L179.60 311.56 L180.40 311.85 L181.20 312.07 L182.00 312.22 L182.80 312.30 L183.60 312.33 L184.40 312.30 L185.20 312.23 L186.00 312.10 L186.80 311.92 L187.60 311.70 L188.40 311.45 L189.20 311.15 L190.00 310.82 L190.80 310.45 L191.60 310.06 L192.40 309.64 L193.20 309.19 L194.00 308.72 L194.80 308.23 L195.60 307.72 L196.40 307.19 L197.20 306.65 L198.00 306.10 L198.80 305.54 L199.60 304.97 L200.40 304.40 L201.20 303.83 L202.00 303.25 L202.80 302.68 L203.60 302.11 L204.40 301.55 L205.20 301.00 L206.00 300.45 L206.80 299.92 L207.60 299.39 L208.40 298.87 L209.20 298.37 L210.00 297.87 L210.80 297.38 L211.60 296.90 L212.40 296.44 L213.20 295.98 L214.00 295.54 L214.80 295.11 L215.60 294.69 L216.40 294.27 L217.20 293.87 L218.00 293.48 L218.80 293.10 L219.60 292.73 L220.40 292.37 L221.20 292.02 L222.00 291.68 L222.80 291.34 L223.60 291.02 L224.40 290.70 L225.20 290.39 L226.00 290.09 L226.80 289.80 L227.60 289.52 L228.40 289.24 L229.20 288.97 L230.00 288.71 L230.80 288.46 L231.60 288.21 L232.40 287.97 L233.20 287.73 L234.00 287.50 L234.80 287.28 L235.60 287.07 L236.40 286.86 L237.20 286.65 L238.00 286.46 L238.80 286.27 L239.60 286.08 L240.40 285.91 L241.20 285.74 L242.00 285.58 L242.80 285.42 L243.60 285.27 L244.40 285.13 L245.20 284.99 L246.00 284.86 L246.80 284.73 L247.60 284.61 L248.40 284.50 L249.20 284.39 L250.00 284.28 L250.80 284.18 L251.60 284.08 L252.40 283.99 L253.20 283.89 L254.00 283.81 L254.80 283.72 L255.60 283.64 L256.40 283.57 L257.20 283.49 L258.00 283.43 L258.80 283.36 L259.60 283.30 L260.40 283.24 L261.20 283.18 L262.00 283.13 L262.80 283.08 L263.60 283.03 L264.40 282.98 L265.20 282.94 L266.00 282.90 L266.80 282.85 L267.60 282.81 L268.40 282.76 L269.20 282.71 L270.00 282.66 L270.80 282.61 L271.60 282.55 L272.40 282.49 L273.20 282.42 L274.00 282.36 L274.80 282.30 L275.60 282.25 L276.40 282.21 L277.20 282.18 L278.00 282.17 L278.80 282.17 L279.60 282.19 L280.40 282.24 L281.20 282.31 L282.00 282.41 L282.80 282.53 L283.60 282.68 L284.40 282.86 L285.20 283.07 L286.00 283.32 L286.80 283.60 L287.60 283.91 L288.40 284.25 L289.20 284.62 L290.00 285.01 L290.80 285.44 L291.60 285.89 L292.40 286.37 L293.20 286.87 L294.00 287.39 L294.80 287.94 L295.60 288.50 L296.40 289.09 L297.20 289.69 L298.00 290.30 L298.80 290.93 L299.60 291.57 L300.40 292.22 L301.20 292.88 L302.00 293.55 L302.80 294.22 L303.60 294.89 L304.40 295.56 L305.20 296.23 L306.00 296.90 L306.80 297.56 L307.60 298.21 L308.40 298.85 L309.20 299.49 L310.00 300.11 L310.80 300.71 L311.60 301.30 L312.40 301.87 L313.20 302.42 L314.00 302.95 L314.80 303.45 L315.60 303.94 L316.40 304.39 L317.20 304.83 L318.00 305.24 L318.80 305.63 L319.60 306.00 L320.40 306.35 L321.20 306.68 L322.00 306.99 L322.80 307.28 L323.60 307.55 L324.40 307.79 L325.20 308.01 L326.00 308.20 L326.80 308.36 L327.60 308.49 L328.40 308.59 L329.20 308.65 L330.00 308.67 L330.80 308.65 L331.60 308.60 L332.40 308.51 L333.20 308.39 L334.00 308.23 L334.80 308.04 L335.60 307.82 L336.40 307.57 L337.20 307.29 L338.00 306.98 L338.80 306.65 L339.60 306.30 L340.40 305.93 L341.20 305.55 L342.00 305.15 L342.80 304.74 L343.60 304.32 L344.40 303.89 L345.20 303.46 L346.00 303.02 L346.80 302.57 L347.60 302.10 L348.40 301.62 L349.20 301.12 L350.00 300.60 L350.80 300.05 L351.60 299.48 L352.40 298.87 L353.20 298.24 L354.00 297.57 L354.80 296.88 L355.60 296.17 L356.40 295.43 L357.20 294.68 L358.00 293.90 L358.80 293.11 L359.60 292.31 L360.40 291.49 L361.20 290.67 L362.00 289.83 L362.80 288.98 L363.60 288.11 L364.40 287.23 L365.20 286.34 L366.00 285.42 L366.80 284.49 L367.60 283.53 L368.40 282.56 L369.20 281.57 L370.00 280.56 L370.80 279.54 L371.60 278.52 L372.40 277.49 L373.20 276.46 L374.00 275.43 L374.80 274.41 L375.60 273.40 L376.40 272.40 L377.20 271.42 L378.00 270.45 L378.80 269.49 L379.60 268.54 L380.40 267.59 L381.20 266.65 L382.00 265.72 L382.80 264.79 L383.60 263.85 L384.40 262.92 L385.20 261.97 L386.00 261.02 L386.80 260.06 L387.60 259.09 L388.40 258.09 L389.20 257.08 L390.00 256.04 L390.80 254.98 L391.60 253.90 L392.40 252.79 L393.20 251.68 L394.00 250.55 L394.80 249.42 L395.60 248.30 L396.40 247.18 L397.20 246.09 L398.00 245.01 L398.80 243.96 L399.60 242.94 L400.40 241.96 L401.20 241.02 L402.00 240.12 L402.80 239.27 L403.60 238.45 L404.40 237.68 L405.20 236.94 L406.00 236.25 L406.80 235.60 L407.60 234.98 L408.40 234.41 L409.20 233.88 L410.00 233.38 L410.80 232.93 L411.60 232.52 L412.40 232.15 L413.20 231.83 L414.00 231.55 L414.80 231.32 L415.60 231.14 L416.40 231.01 L417.20 230.92 L418.00 230.87 L418.80 230.85 L419.60 230.87 L420.40 230.92 L421.20 230.99 L422.00 231.08 L422.80 231.18 L423.60 231.30 L424.40 231.44 L425.20 231.60 L426.00 231.77 L426.80 231.96 L427.60 232.17 L428.40 232.40 L429.20 232.65 L430.00 232.92 L430.80 233.20 L431.60 233.50 L432.40 233.82 L433.20 234.16 L434.00 234.52 L434.80 234.88 L435.60 235.27 L436.40 235.66 L437.20 236.08 L438.00 236.50 L438.80 236.93 L439.60 237.38 L440.40 237.83 L441.20 238.28 L442.00 238.74 L442.80 239.19 L443.60 239.64 L444.40 240.08 L445.20 240.52 L446.00 240.94 L446.80 241.35 L447.60 241.75 L448.40 242.14 L449.20 242.51 L450.00 242.88 L450.80 243.25 L451.60 243.61 L452.40 243.97 L453.20 244.33 L454.00 244.70 L454.80 245.07 L455.60 245.43 L456.40 245.80 L457.20 246.17 L458.00 246.53 L458.80 246.88 L459.60 247.23 L460.40 247.57 L461.20 247.89 L462.00 248.21 L462.80 248.51 L463.60 248.80 L464.40 249.08 L465.20 249.35 L466.00 249.60 L466.80 249.85 L467.60 250.08 L468.40 250.30 L469.20 250.51 L470.00 250.71 L470.80 250.90 L471.60 251.08 L472.40 251.25 L473.20 251.41 L474.00 251.56 L474.80 251.70 L475.60 251.83 L476.40 251.96 L477.20 252.08 L478.00 252.20 L478.80 252.31 L479.60 252.41 L480.40 252.51 L481.20 252.61 L482.00 252.71 L482.80 252.80 L483.60 252.89 L484.40 252.97 L485.20 253.06 L486.00 253.14 L486.80 253.22 L487.60 253.29 L488.40 253.37 L489.20 253.44 L490.00 253.52 L490.80 253.59 L491.60 253.68 L492.40 253.78 L493.20 253.87 L494.00 253.98 L494.80 254.08 L495.60 254.18 L496.40 254.28 L497.20 254.38 L498.00 254.48 L498.80 254.57 L499.60 254.66 L500.40 254.74 L501.20 254.82 L502.00 254.89 L502.80 254.95 L503.60 255.01 L504.40 255.06 L505.20 255.11 L506.00 255.15 L506.80 255.18 L507.60 255.21 L508.40 255.23 L509.20 255.25 L510.00 255.26 L510.80 255.27 L511.60 255.28 L512.40 255.28 L513.20 255.29 L514.00 255.29 L514.80 255.29 L515.60 255.29 L516.40 255.29 L517.20 255.29 L518.00 255.29 L518.80 255.29 L519.60 255.29 L520.40 255.29 L521.20 255.29 L522.00 255.29 L522.80 255.29 L523.60 255.29 L524.40 255.29 L525.20 255.29 L526.00 255.29 L526.80 255.29 L527.60 255.29 L528.40 255.29 L529.20 255.29 L530.00 255.29 L530.80 255.29 L531.60 255.29 L532.40 255.29 L533.20 255.29 L534.00 255.29 L534.80 255.29 L535.60 255.29 L536.40 255.29 L537.20 255.29 L538.00 255.29 L538.80 255.29 L539.60 255.29 L540.40 255.29 L541.20 255.29 L542.00 255.29 L542.80 255.29 L543.60 255.29 L544.40 255.29 L545.20 255.29 L546.00 255.29 L546.80 255.29 L547.60 255.29 L548.40 255.29 L549.20 255.29 L550.00 255.29 L550.80 255.29 L551.60 255.29 L552.40 255.29 L553.20 255.29 L554.00 255.29 L554.80 255.29 L555.60 255.29 L556.40 255.29 L557.20 255.29 L558.00 255.29 L558.80 255.29 L559.60 255.29 L560.40 255.29 L561.20 255.29 L562.00 255.29 L562.80 255.29 L563.60 255.29 L564.40 255.29 L565.20 255.29 L566.00 255.29 L566.80 255.29 L567.60 255.29 L568.40 255.29 L569.20 255.29 L570.00 255.29 L570.80 255.29 L571.60 255.29 L572.40 255.29 L573.20 255.29 L574.00 255.29 L574.80 255.29 L575.60 255.29 L576.40 255.29 L577.20 255.29 L578.00 255.29 L578.80 255.29 L579.60 255.29 L580.40 255.29 L581.20 255.29 L582.00 255.29 L582.80 255.29 L583.60 255.29 L584.40 255.29 L585.20 255.29 L586.00 255.29 L586.80 255.29 L587.60 255.29 L588.40 255.29 L589.20 255.29 L590.00 255.29 L590.80 255.29 L591.60 255.29 L592.40 255.29 L593.20 255.29 L594.00 255.29 L594.80 255.29 L595.60 255.29 L596.40 255.29 L597.20 255.29 L598.00 255.29 L598.80 255.29 L599.60 255.29 L600.40 255.29 L601.20 255.29 L602.00 255.29 L602.80 255.29 L603.60 255.29 L604.40 255.29 L605.20 255.29 L606.00 255.29 L606.80 255.29 L607.60 255.29 L608.40 255.29 L609.20 255.29 L610.00 255.29 L610.80 255.29 L611.60 255.29 L612.40 255.29 L613.20 255.29 L614.00 255.29 L614.80 255.29 L615.60 255.29 L616.40 255.29 L617.20 255.29 L618.00 255.29 L618.80 255.29 L619.60 255.29 L620.40 255.29 L621.20 255.29 L622.00 255.29 L622.80 255.29 L623.60 255.29 L624.40 255.29 L625.20 255.29 L626.00 255.29 L626.80 255.29 L627.60 255.29 L628.40 255.29 L629.20 255.29 L630.00 255.29 L630.80 255.29 L631.60 255.29 L632.40 255.29 L633.20 255.29 L634.00 255.29 L634.80 255.29 L635.60 255.29 L636.40 255.29 L637.20 255.29 L638.00 255.29 L638.80 255.29 L639.60 255.29 L640.40 255.29 L641.20 255.29 L642.00 255.29 L642.80 255.29 L643.60 255.29 L644.40 255.29 L645.20 255.29 L646.00 255.29 L646.80 255.29 L647.60 255.29 L648.40 255.29 L649.20 255.29 L650.00 255.29 L650.80 255.29 L651.60 255.29 L652.40 255.29 L653.20 255.29 L654.00 255.29 L654.80 255.29 L655.60 255.29 L656.40 255.29 L657.20 255.29 L658.00 255.29 L658.80 255.29 L659.60 255.29 L660.40 255.29 L661.20 255.29 L662.00 255.29 L662.80 255.29 L663.60 255.29 L664.40 255.29 L665.20 255.29 L666.00 255.29 L666.80 255.29 L667.60 255.29 L668.40 255.29 L669.20 255.29 L670.00 255.29 L670.80 255.29 L671.60 255.29 L672.40 255.29 L673.20 255.29 L674.00 255.29 L674.80 255.29 L675.60 255.29 L676.40 255.29 L677.20 255.29 L678.00 255.29 L678.80 255.29 L679.60 255.29 L680.40 255.29 L681.20 255.29 L682.00 255.29 L682.80 255.29 L683.60 255.29 L684.40 255.29 L685.20 255.29 L686.00 255.29 L686.80 255.29 L687.60 255.29 L688.40 255.29 L689.20 255.29 L690.00 255.29 L690.80 255.29 L691.60 255.29 L692.40 255.29 L693.20 255.29 L694.00 255.29 L694.80 255.29 L695.60 255.29 L696.40 255.29 L697.20 255.29 L698.00 255.29 L698.80 255.29 L699.60 255.29 L700.40 255.29 L701.20 255.29 L702.00 255.29 L702.80 255.29 L703.60 255.29 L704.40 255.29 L705.20 255.29 L706.00 255.29 L706.80 255.29 L707.60 255.29 L708.40 255.29 L709.20 255.29 L710.00 255.29 L710.80 255.29 L711.60 255.29 L712.40 255.29 L713.20 255.29 L714.00 255.29 L714.80 255.29 L715.60 255.29 L716.40 255.29 L717.20 255.29 L718.00 255.29 L718.80 255.29 L719.60 255.29 L720.40 255.29 L721.20 255.29 L722.00 255.29 L722.80 255.29 L723.60 255.29 L724.40 255.29 L725.20 255.29 L726.00 255.29 L726.80 255.29 L727.60 255.29 L728.40 255.29 L729.20 255.29 L730.00 255.29 L730.80 255.29 L731.60 255.29 L732.40 255.29 L733.20 255.29 L734.00 255.29 L734.80 255.29 L735.60 255.29 L736.40 255.29 L737.20 255.29 L738.00 255.29 L738.80 255.29 L739.60 255.29 L740.40 255.29 L741.20 255.29 L742.00 255.29 L742.80 255.29 L743.60 255.29 L744.40 255.29 L745.20 255.29 L746.00 255.29 L746.80 255.29 L747.60 255.29 L748.40 255.29 L749.20 255.29 L750.00 255.29 L750.80 255.29 L751.60 255.29 L752.40 255.29 L753.20 255.29 L754.00 255.29" fill="none" stroke="#5075d8" stroke-width="1.6" stroke-linejoin="round" stroke-linecap="round" opacity="1"/>
<line x1="34.00" y1="255.00" x2="753.80" y2="255.00" stroke="#3a3a3a" stroke-width="1.2" opacity="0.5"/>
<path d="M34.00 203.50 H753.80 V324.50 H34.00 Z" fill="none" stroke="#444" stroke-width="1.4"/>
<line x1="34.50" y1="325.20" x2="34.50" y2="327.10" stroke="#6a6a6a" stroke-width="1.2"/>
<line x1="154.50" y1="325.20" x2="154.50" y2="327.10" stroke="#6a6a6a" stroke-width="1.2"/>
<line x1="274.50" y1="325.20" x2="274.50" y2="327.10" stroke="#6a6a6a" stroke-width="1.2"/>
<line x1="394.50" y1="325.20" x2="394.50" y2="327.10" stroke="#6a6a6a" stroke-width="1.2"/>
<line x1="514.50" y1="325.20" x2="514.50" y2="327.10" stroke="#6a6a6a" stroke-width="1.2"/>
<line x1="634.50" y1="325.20" x2="634.50" y2="327.10" stroke="#6a6a6a" stroke-width="1.2"/>
<line x1="754.50" y1="325.20" x2="754.50" y2="327.10" stroke="#6a6a6a" stroke-width="1.2"/>
<line x1="31.40" y1="220.50" x2="33.30" y2="220.50" stroke="#7a7a7a" stroke-width="1.1"/>
<line x1="31.40" y1="238.50" x2="33.30" y2="238.50" stroke="#7a7a7a" stroke-width="1.1"/>
<line x1="31.40" y1="272.50" x2="33.30" y2="272.50" stroke="#7a7a7a" stroke-width="1.1"/>
<line x1="31.40" y1="289.50" x2="33.30" y2="289.50" stroke="#7a7a7a" stroke-width="1.1"/>
<line x1="31.40" y1="306.50" x2="33.30" y2="306.50" stroke="#7a7a7a" stroke-width="1.1"/>
<line x1="31.40" y1="203.50" x2="33.30" y2="203.50" stroke="#7a7a7a" stroke-width="1.1"/>
<line x1="31.40" y1="324.50" x2="33.30" y2="324.50" stroke="#7a7a7a" stroke-width="1.1"/>
<text x="25.74" y="337.60" font-size="11.40" textLength="16.53" lengthAdjust="spacingAndGlyphs" fill="#fff" stroke="#fff" stroke-opacity="0.8" stroke-width="2.4" stroke-linejoin="round">0.0</text>
<text x="25.74" y="337.60" font-size="11.40" textLength="16.53" lengthAdjust="spacingAndGlyphs" fill="#1e1e1e" stroke="#1e1e1e" stroke-width="0.15">0.0</text>
<text x="145.73" y="337.60" font-size="11.40" textLength="16.57" lengthAdjust="spacingAndGlyphs" fill="#fff" stroke="#fff" stroke-opacity="0.8" stroke-width="2.4" stroke-linejoin="round">0.5</text>
<text x="145.73" y="337.60" font-size="11.40" textLength="16.57" lengthAdjust="spacingAndGlyphs" fill="#1e1e1e" stroke="#1e1e1e" stroke-width="0.15">0.5</text>
<text x="265.27" y="337.60" font-size="11.40" textLength="17.01" lengthAdjust="spacingAndGlyphs" fill="#fff" stroke="#fff" stroke-opacity="0.8" stroke-width="2.4" stroke-linejoin="round">1.0</text>
<text x="265.27" y="337.60" font-size="11.40" textLength="17.01" lengthAdjust="spacingAndGlyphs" fill="#1e1e1e" stroke="#1e1e1e" stroke-width="0.15">1.0</text>
<text x="385.27" y="337.60" font-size="11.40" textLength="17.05" lengthAdjust="spacingAndGlyphs" fill="#fff" stroke="#fff" stroke-opacity="0.8" stroke-width="2.4" stroke-linejoin="round">1.5</text>
<text x="385.27" y="337.60" font-size="11.40" textLength="17.05" lengthAdjust="spacingAndGlyphs" fill="#1e1e1e" stroke="#1e1e1e" stroke-width="0.15">1.5</text>
<text x="505.60" y="337.60" font-size="11.40" textLength="16.67" lengthAdjust="spacingAndGlyphs" fill="#fff" stroke="#fff" stroke-opacity="0.8" stroke-width="2.4" stroke-linejoin="round">2.0</text>
<text x="505.60" y="337.60" font-size="11.40" textLength="16.67" lengthAdjust="spacingAndGlyphs" fill="#1e1e1e" stroke="#1e1e1e" stroke-width="0.15">2.0</text>
<text x="625.60" y="337.60" font-size="11.40" textLength="16.71" lengthAdjust="spacingAndGlyphs" fill="#fff" stroke="#fff" stroke-opacity="0.8" stroke-width="2.4" stroke-linejoin="round">2.5</text>
<text x="625.60" y="337.60" font-size="11.40" textLength="16.71" lengthAdjust="spacingAndGlyphs" fill="#1e1e1e" stroke="#1e1e1e" stroke-width="0.15">2.5</text>
<text x="745.75" y="337.60" font-size="11.40" textLength="16.52" lengthAdjust="spacingAndGlyphs" fill="#fff" stroke="#fff" stroke-opacity="0.8" stroke-width="2.4" stroke-linejoin="round">3.0</text>
<text x="745.75" y="337.60" font-size="11.40" textLength="16.52" lengthAdjust="spacingAndGlyphs" fill="#1e1e1e" stroke="#1e1e1e" stroke-width="0.15">3.0</text>
<text x="24.21" y="207.70" font-size="11.40" textLength="6.72" lengthAdjust="spacingAndGlyphs" fill="#fff" stroke="#fff" stroke-opacity="0.8" stroke-width="2.4" stroke-linejoin="round">6</text>
<text x="24.21" y="207.70" font-size="11.40" textLength="6.72" lengthAdjust="spacingAndGlyphs" fill="#1e1e1e" stroke="#1e1e1e" stroke-width="0.15">6</text>
<text x="24.03" y="224.93" font-size="11.40" textLength="6.72" lengthAdjust="spacingAndGlyphs" fill="#fff" stroke="#fff" stroke-opacity="0.8" stroke-width="2.4" stroke-linejoin="round">4</text>
<text x="24.03" y="224.93" font-size="11.40" textLength="6.72" lengthAdjust="spacingAndGlyphs" fill="#1e1e1e" stroke="#1e1e1e" stroke-width="0.15">4</text>
<text x="24.29" y="242.16" font-size="11.40" textLength="6.72" lengthAdjust="spacingAndGlyphs" fill="#fff" stroke="#fff" stroke-opacity="0.8" stroke-width="2.4" stroke-linejoin="round">2</text>
<text x="24.29" y="242.16" font-size="11.40" textLength="6.72" lengthAdjust="spacingAndGlyphs" fill="#1e1e1e" stroke="#1e1e1e" stroke-width="0.15">2</text>
<text x="24.15" y="259.39" font-size="11.40" textLength="6.72" lengthAdjust="spacingAndGlyphs" fill="#fff" stroke="#fff" stroke-opacity="0.8" stroke-width="2.4" stroke-linejoin="round">0</text>
<text x="24.15" y="259.39" font-size="11.40" textLength="6.72" lengthAdjust="spacingAndGlyphs" fill="#1e1e1e" stroke="#1e1e1e" stroke-width="0.15">0</text>
<text x="24.29" y="276.61" font-size="11.40" textLength="6.72" lengthAdjust="spacingAndGlyphs" fill="#fff" stroke="#fff" stroke-opacity="0.8" stroke-width="2.4" stroke-linejoin="round">2</text>
<text x="24.29" y="276.61" font-size="11.40" textLength="6.72" lengthAdjust="spacingAndGlyphs" fill="#1e1e1e" stroke="#1e1e1e" stroke-width="0.15">2</text>
<rect x="21.69" y="272.01" width="2.6" height="3.2" fill="#fff" opacity="0.7"/>
<rect x="21.89" y="273.01" width="2.3" height="1.2" fill="#1e1e1e"/>
<text x="24.03" y="293.84" font-size="11.40" textLength="6.72" lengthAdjust="spacingAndGlyphs" fill="#fff" stroke="#fff" stroke-opacity="0.8" stroke-width="2.4" stroke-linejoin="round">4</text>
<text x="24.03" y="293.84" font-size="11.40" textLength="6.72" lengthAdjust="spacingAndGlyphs" fill="#1e1e1e" stroke="#1e1e1e" stroke-width="0.15">4</text>
<rect x="21.11" y="289.24" width="2.6" height="3.2" fill="#fff" opacity="0.7"/>
<rect x="21.31" y="290.24" width="2.3" height="1.2" fill="#1e1e1e"/>
<text x="24.21" y="311.07" font-size="11.40" textLength="6.72" lengthAdjust="spacingAndGlyphs" fill="#fff" stroke="#fff" stroke-opacity="0.8" stroke-width="2.4" stroke-linejoin="round">6</text>
<text x="24.21" y="311.07" font-size="11.40" textLength="6.72" lengthAdjust="spacingAndGlyphs" fill="#1e1e1e" stroke="#1e1e1e" stroke-width="0.15">6</text>
<rect x="21.62" y="306.47" width="2.6" height="3.2" fill="#fff" opacity="0.7"/>
<rect x="21.82" y="307.47" width="2.3" height="1.2" fill="#1e1e1e"/>
<text x="24.20" y="328.30" font-size="11.40" textLength="6.72" lengthAdjust="spacingAndGlyphs" fill="#fff" stroke="#fff" stroke-opacity="0.8" stroke-width="2.4" stroke-linejoin="round">8</text>
<text x="24.20" y="328.30" font-size="11.40" textLength="6.72" lengthAdjust="spacingAndGlyphs" fill="#1e1e1e" stroke="#1e1e1e" stroke-width="0.15">8</text>
<rect x="21.53" y="323.70" width="2.6" height="3.2" fill="#fff" opacity="0.7"/>
<rect x="21.73" y="324.70" width="2.3" height="1.2" fill="#1e1e1e"/>
<text x="377.89" y="351.30" font-size="13.20" textLength="31.14" lengthAdjust="spacingAndGlyphs" fill="#fff" stroke="#fff" stroke-opacity="0.8" stroke-width="2.4" stroke-linejoin="round">Time</text>
<text x="377.89" y="351.30" font-size="13.20" textLength="31.14" lengthAdjust="spacingAndGlyphs" fill="#1e1e1e" stroke="#1e1e1e" stroke-width="0.30">Time</text>
<text transform="translate(15.10 327.85) rotate(-90)" x="0" y="0" font-size="13.10" textLength="132.15" lengthAdjust="spacingAndGlyphs" fill="#fff" stroke="#fff" stroke-opacity="0.8" stroke-width="2.4" stroke-linejoin="round">Marker Displacement</text>
<text transform="translate(15.10 327.85) rotate(-90)" x="0" y="0" font-size="13.10" textLength="132.15" lengthAdjust="spacingAndGlyphs" fill="#1e1e1e" stroke="#1e1e1e" stroke-width="0.30">Marker Displacement</text>
<text x="213.61" y="194.30" font-size="15.50" textLength="359.82" lengthAdjust="spacingAndGlyphs" fill="#fff" stroke="#fff" stroke-opacity="0.8" stroke-width="2.4" stroke-linejoin="round">REQ/70000006 Body slider(Output slider-disp) - DX</text>
<text x="213.61" y="194.30" font-size="15.50" textLength="359.82" lengthAdjust="spacingAndGlyphs" fill="#1e1e1e" stroke="#1e1e1e" stroke-width="0.30">REQ/70000006 Body slider(Output slider-disp) - DX</text>
<rect x="446.50" y="206.50" width="303.80" height="17.30" fill="#fff" stroke="#555" stroke-width="1.3"/>
<line x1="450.70" y1="214.60" x2="482.50" y2="214.60" stroke="#5075d8" stroke-width="2"/>
<text x="484.66" y="218.40" font-size="11.00" textLength="262.68" lengthAdjust="spacingAndGlyphs" fill="#3d64d2" stroke="#3d64d2" stroke-width="0.30">REQ/70000006 Body slider(Output slider-disp) - DX</text>
<rect x="56.00" y="380.60" width="699.80" height="125.30" fill="#fff"/>
<line x1="115.82" y1="383.60" x2="115.82" y2="502.90" stroke="#e2e2e2" stroke-width="1" stroke-dasharray="1 1.35"/>
<line x1="173.83" y1="383.60" x2="173.83" y2="502.90" stroke="#d9d9d9" stroke-width="1"/>
<line x1="231.85" y1="383.60" x2="231.85" y2="502.90" stroke="#e2e2e2" stroke-width="1" stroke-dasharray="1 1.35"/>
<line x1="289.87" y1="383.60" x2="289.87" y2="502.90" stroke="#d9d9d9" stroke-width="1"/>
<line x1="347.88" y1="383.60" x2="347.88" y2="502.90" stroke="#e2e2e2" stroke-width="1" stroke-dasharray="1 1.35"/>
<line x1="405.90" y1="383.60" x2="405.90" y2="502.90" stroke="#d9d9d9" stroke-width="1"/>
<line x1="463.92" y1="383.60" x2="463.92" y2="502.90" stroke="#e2e2e2" stroke-width="1" stroke-dasharray="1 1.35"/>
<line x1="521.93" y1="383.60" x2="521.93" y2="502.90" stroke="#d9d9d9" stroke-width="1"/>
<line x1="579.95" y1="383.60" x2="579.95" y2="502.90" stroke="#e2e2e2" stroke-width="1" stroke-dasharray="1 1.35"/>
<line x1="637.97" y1="383.60" x2="637.97" y2="502.90" stroke="#d9d9d9" stroke-width="1"/>
<line x1="695.98" y1="383.60" x2="695.98" y2="502.90" stroke="#e2e2e2" stroke-width="1" stroke-dasharray="1 1.35"/>
<line x1="59.00" y1="388.76" x2="751.80" y2="388.76" stroke="#e2e2e2" stroke-width="1" stroke-dasharray="1 1.35"/>
<line x1="59.00" y1="394.83" x2="751.80" y2="394.83" stroke="#d9d9d9" stroke-width="1"/>
<line x1="59.00" y1="400.89" x2="751.80" y2="400.89" stroke="#e2e2e2" stroke-width="1" stroke-dasharray="1 1.35"/>
<line x1="59.00" y1="406.96" x2="751.80" y2="406.96" stroke="#d9d9d9" stroke-width="1"/>
<line x1="59.00" y1="413.02" x2="751.80" y2="413.02" stroke="#e2e2e2" stroke-width="1" stroke-dasharray="1 1.35"/>
<line x1="59.00" y1="419.09" x2="751.80" y2="419.09" stroke="#d9d9d9" stroke-width="1"/>
<line x1="59.00" y1="425.15" x2="751.80" y2="425.15" stroke="#e2e2e2" stroke-width="1" stroke-dasharray="1 1.35"/>
<line x1="59.00" y1="431.22" x2="751.80" y2="431.22" stroke="#d9d9d9" stroke-width="1"/>
<line x1="59.00" y1="437.28" x2="751.80" y2="437.28" stroke="#e2e2e2" stroke-width="1" stroke-dasharray="1 1.35"/>
<line x1="59.00" y1="449.41" x2="751.80" y2="449.41" stroke="#e2e2e2" stroke-width="1" stroke-dasharray="1 1.35"/>
<line x1="59.00" y1="455.48" x2="751.80" y2="455.48" stroke="#d9d9d9" stroke-width="1"/>
<line x1="59.00" y1="461.54" x2="751.80" y2="461.54" stroke="#e2e2e2" stroke-width="1" stroke-dasharray="1 1.35"/>
<line x1="59.00" y1="467.61" x2="751.80" y2="467.61" stroke="#d9d9d9" stroke-width="1"/>
<line x1="59.00" y1="473.68" x2="751.80" y2="473.68" stroke="#e2e2e2" stroke-width="1" stroke-dasharray="1 1.35"/>
<line x1="59.00" y1="479.74" x2="751.80" y2="479.74" stroke="#d9d9d9" stroke-width="1"/>
<line x1="59.00" y1="485.81" x2="751.80" y2="485.81" stroke="#e2e2e2" stroke-width="1" stroke-dasharray="1 1.35"/>
<line x1="59.00" y1="491.87" x2="751.80" y2="491.87" stroke="#d9d9d9" stroke-width="1"/>
<line x1="59.00" y1="497.94" x2="751.80" y2="497.94" stroke="#e2e2e2" stroke-width="1" stroke-dasharray="1 1.35"/>
<line x1="58.00" y1="443.50" x2="753.80" y2="443.50" stroke="#484848" stroke-width="1.2"/>
<path d="M57.80 443.83 L58.57 444.34 L59.35 444.82 L60.12 445.25 L60.89 445.58 L61.67 445.82 L62.44 445.95 L63.21 445.98 L63.99 445.91 L64.76 445.75 L65.54 445.51 L66.31 445.22 L67.08 444.91 L67.86 444.60 L68.63 444.30 L69.40 444.03 L70.18 443.77 L70.95 443.52 L71.72 443.29 L72.50 443.07 L73.27 442.87 L74.04 442.67 L74.82 442.48 L75.59 442.30 L76.37 442.14 L77.14 441.99 L77.91 441.85 L78.69 441.74 L79.46 441.64 L80.23 441.56 L81.01 441.50 L81.78 441.45 L82.55 441.43 L83.33 441.43 L84.10 441.45 L84.87 441.49 L85.65 441.55 L86.42 441.63 L87.20 441.75 L87.97 441.91 L88.74 442.12 L89.52 442.39 L90.29 442.74 L91.06 443.18 L91.84 443.71 L92.61 444.33 L93.38 445.03 L94.16 445.80 L94.93 446.64 L95.70 447.53 L96.48 448.46 L97.25 449.44 L98.02 450.46 L98.80 451.52 L99.57 452.62 L100.35 453.77 L101.12 454.96 L101.89 456.19 L102.67 457.47 L103.44 458.78 L104.21 460.13 L104.99 461.49 L105.76 462.88 L106.53 464.28 L107.31 465.69 L108.08 467.11 L108.85 468.53 L109.63 469.97 L110.40 471.41 L111.18 472.87 L111.95 474.33 L112.72 475.81 L113.50 477.29 L114.27 478.79 L115.04 480.29 L115.82 481.79 L116.59 483.27 L117.36 484.70 L118.14 486.04 L118.91 487.28 L119.68 488.41 L120.46 489.45 L121.23 490.40 L122.01 491.28 L122.78 492.11 L123.55 492.89 L124.33 493.64 L125.10 494.34 L125.87 494.99 L126.65 495.58 L127.42 496.11 L128.19 496.56 L128.97 496.94 L129.74 497.25 L130.51 497.49 L131.29 497.67 L132.06 497.80 L132.83 497.87 L133.61 497.90 L134.38 497.89 L135.16 497.83 L135.93 497.73 L136.70 497.57 L137.48 497.35 L138.25 497.08 L139.02 496.73 L139.80 496.32 L140.57 495.85 L141.34 495.31 L142.12 494.72 L142.89 494.08 L143.66 493.40 L144.44 492.69 L145.21 491.95 L145.99 491.17 L146.76 490.35 L147.53 489.49 L148.31 488.58 L149.08 487.63 L149.85 486.62 L150.63 485.56 L151.40 484.45 L152.17 483.28 L152.95 482.05 L153.72 480.76 L154.49 479.41 L155.27 478.00 L156.04 476.53 L156.82 475.01 L157.59 473.44 L158.36 471.83 L159.14 470.19 L159.91 468.51 L160.68 466.80 L161.46 465.06 L162.23 463.28 L163.00 461.48 L163.78 459.65 L164.55 457.79 L165.32 455.91 L166.10 454.01 L166.87 452.09 L167.64 450.16 L168.42 448.22 L169.19 446.28 L169.97 444.34 L170.74 442.40 L171.51 440.47 L172.29 438.54 L173.06 436.62 L173.83 434.70 L174.61 432.78 L175.38 430.87 L176.15 428.95 L176.93 427.04 L177.70 425.13 L178.47 423.22 L179.25 421.31 L180.02 419.40 L180.80 417.51 L181.57 415.64 L182.34 413.81 L183.12 412.02 L183.89 410.29 L184.66 408.61 L185.44 407.01 L186.21 405.49 L186.98 404.06 L187.76 402.72 L188.53 401.48 L189.30 400.34 L190.08 399.30 L190.85 398.34 L191.63 397.48 L192.40 396.71 L193.17 396.04 L193.95 395.45 L194.72 394.95 L195.49 394.53 L196.27 394.19 L197.04 393.94 L197.81 393.75 L198.59 393.64 L199.36 393.60 L200.13 393.63 L200.91 393.73 L201.68 393.88 L202.45 394.10 L203.23 394.38 L204.00 394.72 L204.78 395.12 L205.55 395.56 L206.32 396.06 L207.10 396.61 L207.87 397.21 L208.64 397.85 L209.42 398.52 L210.19 399.23 L210.96 399.96 L211.74 400.72 L212.51 401.50 L213.28 402.29 L214.06 403.09 L214.83 403.90 L215.61 404.72 L216.38 405.55 L217.15 406.38 L217.93 407.21 L218.70 408.04 L219.47 408.88 L220.25 409.71 L221.02 410.54 L221.79 411.37 L222.57 412.19 L223.34 413.01 L224.11 413.82 L224.89 414.64 L225.66 415.44 L226.44 416.24 L227.21 417.03 L227.98 417.82 L228.76 418.59 L229.53 419.35 L230.30 420.09 L231.08 420.82 L231.85 421.53 L232.62 422.22 L233.40 422.89 L234.17 423.55 L234.94 424.18 L235.72 424.80 L236.49 425.39 L237.26 425.97 L238.04 426.52 L238.81 427.06 L239.59 427.57 L240.36 428.07 L241.13 428.54 L241.91 429.00 L242.68 429.44 L243.45 429.87 L244.23 430.29 L245.00 430.70 L245.77 431.10 L246.55 431.50 L247.32 431.89 L248.09 432.27 L248.87 432.65 L249.64 433.03 L250.42 433.40 L251.19 433.76 L251.96 434.11 L252.74 434.45 L253.51 434.79 L254.28 435.11 L255.06 435.42 L255.83 435.72 L256.60 436.01 L257.38 436.28 L258.15 436.54 L258.92 436.79 L259.70 437.03 L260.47 437.26 L261.25 437.47 L262.02 437.69 L262.79 437.89 L263.57 438.09 L264.34 438.28 L265.11 438.47 L265.89 438.65 L266.66 438.83 L267.43 439.01 L268.21 439.18 L268.98 439.36 L269.75 439.52 L270.53 439.69 L271.30 439.84 L272.07 440.00 L272.85 440.14 L273.62 440.29 L274.40 440.42 L275.17 440.55 L275.94 440.67 L276.72 440.79 L277.49 440.89 L278.26 441.00 L279.04 441.09 L279.81 441.19 L280.58 441.27 L281.36 441.36 L282.13 441.44 L282.90 441.51 L283.68 441.58 L284.45 441.65 L285.23 441.72 L286.00 441.78 L286.77 441.84 L287.55 441.89 L288.32 441.93 L289.09 441.97 L289.87 442.00 L290.64 442.01 L291.41 442.01 L292.19 442.00 L292.96 441.98 L293.73 441.93 L294.51 441.87 L295.28 441.79 L296.06 441.69 L296.83 441.56 L297.60 441.39 L298.38 441.19 L299.15 440.95 L299.92 440.66 L300.70 440.33 L301.47 439.95 L302.24 439.52 L303.02 439.05 L303.79 438.55 L304.56 438.00 L305.34 437.43 L306.11 436.82 L306.88 436.19 L307.66 435.53 L308.43 434.86 L309.21 434.16 L309.98 433.45 L310.75 432.71 L311.53 431.94 L312.30 431.15 L313.07 430.32 L313.85 429.47 L314.62 428.58 L315.39 427.65 L316.17 426.70 L316.94 425.73 L317.71 424.75 L318.49 423.77 L319.26 422.79 L320.04 421.82 L320.81 420.87 L321.58 419.94 L322.36 419.02 L323.13 418.12 L323.90 417.24 L324.68 416.38 L325.45 415.53 L326.22 414.69 L327.00 413.87 L327.77 413.07 L328.54 412.28 L329.32 411.50 L330.09 410.73 L330.87 409.98 L331.64 409.25 L332.41 408.53 L333.19 407.84 L333.96 407.18 L334.73 406.54 L335.51 405.95 L336.28 405.39 L337.05 404.87 L337.83 404.40 L338.60 403.97 L339.37 403.60 L340.15 403.28 L340.92 403.01 L341.69 402.79 L342.47 402.61 L343.24 402.47 L344.02 402.38 L344.79 402.32 L345.56 402.30 L346.34 402.32 L347.11 402.36 L347.88 402.44 L348.66 402.54 L349.43 402.68 L350.20 402.84 L350.98 403.03 L351.75 403.24 L352.52 403.48 L353.30 403.75 L354.07 404.04 L354.85 404.35 L355.62 404.69 L356.39 405.05 L357.17 405.44 L357.94 405.84 L358.71 406.27 L359.49 406.71 L360.26 407.17 L361.03 407.66 L361.81 408.16 L362.58 408.68 L363.35 409.22 L364.13 409.77 L364.90 410.35 L365.68 410.95 L366.45 411.57 L367.22 412.21 L368.00 412.88 L368.77 413.58 L369.54 414.30 L370.32 415.05 L371.09 415.83 L371.86 416.64 L372.64 417.48 L373.41 418.35 L374.18 419.25 L374.96 420.17 L375.73 421.12 L376.50 422.08 L377.28 423.07 L378.05 424.06 L378.83 425.07 L379.60 426.09 L380.37 427.12 L381.15 428.15 L381.92 429.19 L382.69 430.22 L383.47 431.25 L384.24 432.28 L385.01 433.31 L385.79 434.34 L386.56 435.36 L387.33 436.40 L388.11 437.43 L388.88 438.48 L389.66 439.52 L390.43 440.58 L391.20 441.64 L391.98 442.72 L392.75 443.80 L393.52 444.90 L394.30 446.00 L395.07 447.12 L395.84 448.24 L396.62 449.38 L397.39 450.52 L398.16 451.66 L398.94 452.81 L399.71 453.96 L400.49 455.12 L401.26 456.28 L402.03 457.43 L402.81 458.59 L403.58 459.73 L404.35 460.87 L405.13 462.00 L405.90 463.12 L406.67 464.22 L407.45 465.30 L408.22 466.36 L408.99 467.40 L409.77 468.42 L410.54 469.42 L411.31 470.39 L412.09 471.35 L412.86 472.28 L413.64 473.20 L414.41 474.09 L415.18 474.96 L415.96 475.81 L416.73 476.63 L417.50 477.42 L418.28 478.19 L419.05 478.92 L419.82 479.62 L420.60 480.28 L421.37 480.90 L422.14 481.45 L422.92 481.94 L423.69 482.35 L424.47 482.68 L425.24 482.93 L426.01 483.11 L426.79 483.21 L427.56 483.26 L428.33 483.25 L429.11 483.18 L429.88 483.06 L430.65 482.89 L431.43 482.68 L432.20 482.43 L432.97 482.14 L433.75 481.82 L434.52 481.47 L435.30 481.09 L436.07 480.68 L436.84 480.24 L437.62 479.77 L438.39 479.27 L439.16 478.74 L439.94 478.17 L440.71 477.57 L441.48 476.94 L442.26 476.29 L443.03 475.60 L443.80 474.90 L444.58 474.19 L445.35 473.46 L446.12 472.73 L446.90 472.00 L447.67 471.27 L448.45 470.54 L449.22 469.81 L449.99 469.10 L450.77 468.39 L451.54 467.69 L452.31 467.00 L453.09 466.32 L453.86 465.66 L454.63 465.02 L455.41 464.39 L456.18 463.78 L456.95 463.18 L457.73 462.59 L458.50 462.01 L459.28 461.44 L460.05 460.88 L460.82 460.32 L461.60 459.76 L462.37 459.21 L463.14 458.66 L463.92 458.13 L464.69 457.60 L465.46 457.08 L466.24 456.57 L467.01 456.07 L467.78 455.59 L468.56 455.13 L469.33 454.68 L470.11 454.24 L470.88 453.83 L471.65 453.43 L472.43 453.04 L473.20 452.68 L473.97 452.33 L474.75 452.00 L475.52 451.68 L476.29 451.39 L477.07 451.11 L477.84 450.85 L478.61 450.60 L479.39 450.37 L480.16 450.16 L480.93 449.96 L481.71 449.76 L482.48 449.57 L483.26 449.38 L484.03 449.20 L484.80 449.01 L485.58 448.81 L486.35 448.61 L487.12 448.40 L487.90 448.19 L488.67 447.97 L489.44 447.76 L490.22 447.54 L490.99 447.33 L491.76 447.12 L492.54 446.92 L493.31 446.72 L494.09 446.54 L494.86 446.36 L495.63 446.19 L496.41 446.04 L497.18 445.89 L497.95 445.74 L498.73 445.61 L499.50 445.48 L500.27 445.35 L501.05 445.23 L501.82 445.11 L502.59 445.00 L503.37 444.89 L504.14 444.79 L504.92 444.68 L505.69 444.59 L506.46 444.50 L507.24 444.41 L508.01 444.33 L508.78 444.25 L509.56 444.18 L510.33 444.12 L511.10 444.06 L511.88 444.01 L512.65 443.95 L513.42 443.90 L514.20 443.86 L514.97 443.82 L515.74 443.78 L516.52 443.74 L517.29 443.70 L518.07 443.67 L518.84 443.64 L519.61 443.61 L520.39 443.58 L521.16 443.55 L521.93 443.53 L522.71 443.50 L523.48 443.48 L524.25 443.45 L525.03 443.43 L525.80 443.41 L526.57 443.40 L527.35 443.38 L528.12 443.37 L528.90 443.37 L529.67 443.36 L530.44 443.35 L531.22 443.35 L531.99 443.35 L532.76 443.35 L533.54 443.35 L534.31 443.35 L535.08 443.35 L535.86 443.35 L536.63 443.35 L537.40 443.35 L538.18 443.35 L538.95 443.35 L539.73 443.35 L540.50 443.35 L541.27 443.35 L542.05 443.35 L542.82 443.35 L543.59 443.35 L544.37 443.35 L545.14 443.35 L545.91 443.35 L546.69 443.35 L547.46 443.35 L548.23 443.35 L549.01 443.35 L549.78 443.35 L550.55 443.35 L551.33 443.35 L552.10 443.35 L552.88 443.35 L553.65 443.35 L554.42 443.35 L555.20 443.35 L555.97 443.35 L556.74 443.35 L557.52 443.35 L558.29 443.35 L559.06 443.35 L559.84 443.35 L560.61 443.35 L561.38 443.35 L562.16 443.35 L562.93 443.35 L563.71 443.35 L564.48 443.35 L565.25 443.35 L566.03 443.35 L566.80 443.35 L567.57 443.35 L568.35 443.35 L569.12 443.35 L569.89 443.35 L570.67 443.35 L571.44 443.35 L572.21 443.35 L572.99 443.35 L573.76 443.35 L574.54 443.35 L575.31 443.35 L576.08 443.35 L576.86 443.35 L577.63 443.35 L578.40 443.35 L579.18 443.35 L579.95 443.35 L580.72 443.35 L581.50 443.35 L582.27 443.35 L583.04 443.35 L583.82 443.35 L584.59 443.35 L585.36 443.35 L586.14 443.35 L586.91 443.35 L587.69 443.35 L588.46 443.35 L589.23 443.35 L590.01 443.35 L590.78 443.35 L591.55 443.35 L592.33 443.35 L593.10 443.35 L593.87 443.35 L594.65 443.35 L595.42 443.35 L596.19 443.35 L596.97 443.35 L597.74 443.35 L598.52 443.35 L599.29 443.35 L600.06 443.35 L600.84 443.35 L601.61 443.35 L602.38 443.35 L603.16 443.35 L603.93 443.35 L604.70 443.35 L605.48 443.35 L606.25 443.35 L607.02 443.35 L607.80 443.35 L608.57 443.35 L609.35 443.35 L610.12 443.35 L610.89 443.35 L611.67 443.35 L612.44 443.35 L613.21 443.35 L613.99 443.35 L614.76 443.35 L615.53 443.35 L616.31 443.35 L617.08 443.35 L617.85 443.35 L618.63 443.35 L619.40 443.35 L620.17 443.35 L620.95 443.35 L621.72 443.35 L622.50 443.35 L623.27 443.35 L624.04 443.35 L624.82 443.35 L625.59 443.35 L626.36 443.35 L627.14 443.35 L627.91 443.35 L628.68 443.35 L629.46 443.35 L630.23 443.35 L631.00 443.35 L631.78 443.35 L632.55 443.35 L633.33 443.35 L634.10 443.35 L634.87 443.35 L635.65 443.35 L636.42 443.35 L637.19 443.35 L637.97 443.35 L638.74 443.35 L639.51 443.35 L640.29 443.35 L641.06 443.35 L641.83 443.35 L642.61 443.35 L643.38 443.35 L644.16 443.35 L644.93 443.35 L645.70 443.35 L646.48 443.35 L647.25 443.35 L648.02 443.35 L648.80 443.35 L649.57 443.35 L650.34 443.35 L651.12 443.35 L651.89 443.35 L652.66 443.35 L653.44 443.35 L654.21 443.35 L654.98 443.35 L655.76 443.35 L656.53 443.35 L657.31 443.35 L658.08 443.35 L658.85 443.35 L659.63 443.35 L660.40 443.35 L661.17 443.35 L661.95 443.35 L662.72 443.35 L663.49 443.35 L664.27 443.35 L665.04 443.35 L665.81 443.35 L666.59 443.35 L667.36 443.35 L668.14 443.35 L668.91 443.35 L669.68 443.35 L670.46 443.35 L671.23 443.35 L672.00 443.35 L672.78 443.35 L673.55 443.35 L674.32 443.35 L675.10 443.35 L675.87 443.35 L676.64 443.35 L677.42 443.35 L678.19 443.35 L678.97 443.35 L679.74 443.35 L680.51 443.35 L681.29 443.35 L682.06 443.35 L682.83 443.35 L683.61 443.35 L684.38 443.35 L685.15 443.35 L685.93 443.35 L686.70 443.35 L687.47 443.35 L688.25 443.35 L689.02 443.35 L689.79 443.35 L690.57 443.35 L691.34 443.35 L692.12 443.35 L692.89 443.35 L693.66 443.35 L694.44 443.35 L695.21 443.35 L695.98 443.35 L696.76 443.35 L697.53 443.35 L698.30 443.35 L699.08 443.35 L699.85 443.35 L700.62 443.35 L701.40 443.35 L702.17 443.35 L702.95 443.35 L703.72 443.35 L704.49 443.35 L705.27 443.35 L706.04 443.35 L706.81 443.35 L707.59 443.35 L708.36 443.35 L709.13 443.35 L709.91 443.35 L710.68 443.35 L711.45 443.35 L712.23 443.35 L713.00 443.35 L713.78 443.35 L714.55 443.35 L715.32 443.35 L716.10 443.35 L716.87 443.35 L717.64 443.35 L718.42 443.35 L719.19 443.35 L719.96 443.35 L720.74 443.35 L721.51 443.35 L722.28 443.35 L723.06 443.35 L723.83 443.35 L724.60 443.35 L725.38 443.35 L726.15 443.35 L726.93 443.35 L727.70 443.35 L728.47 443.35 L729.25 443.35 L730.02 443.35 L730.79 443.35 L731.57 443.35 L732.34 443.35 L733.11 443.35 L733.89 443.35 L734.66 443.35 L735.43 443.35 L736.21 443.35 L736.98 443.35 L737.76 443.35 L738.53 443.35 L739.30 443.35 L740.08 443.35 L740.85 443.35 L741.62 443.35 L742.40 443.35 L743.17 443.35 L743.94 443.35 L744.72 443.35 L745.49 443.35 L746.26 443.35 L747.04 443.35 L747.81 443.35 L748.59 443.35 L749.36 443.35 L750.13 443.35 L750.91 443.35 L751.68 443.35 L752.45 443.35 L753.23 443.35 L754.00 443.35" fill="none" stroke="#5075d8" stroke-width="1.6" stroke-linejoin="round" stroke-linecap="round" opacity="1"/>
<line x1="58.00" y1="443.50" x2="753.80" y2="443.50" stroke="#3a3a3a" stroke-width="1.2" opacity="0.5"/>
<path d="M58.00 382.60 H753.80 V503.90 H58.00 Z" fill="none" stroke="#444" stroke-width="1.4"/>
<line x1="57.50" y1="504.60" x2="57.50" y2="506.50" stroke="#6a6a6a" stroke-width="1.2"/>
<line x1="173.50" y1="504.60" x2="173.50" y2="506.50" stroke="#6a6a6a" stroke-width="1.2"/>
<line x1="289.50" y1="504.60" x2="289.50" y2="506.50" stroke="#6a6a6a" stroke-width="1.2"/>
<line x1="405.50" y1="504.60" x2="405.50" y2="506.50" stroke="#6a6a6a" stroke-width="1.2"/>
<line x1="521.50" y1="504.60" x2="521.50" y2="506.50" stroke="#6a6a6a" stroke-width="1.2"/>
<line x1="637.50" y1="504.60" x2="637.50" y2="506.50" stroke="#6a6a6a" stroke-width="1.2"/>
<line x1="754.50" y1="504.60" x2="754.50" y2="506.50" stroke="#6a6a6a" stroke-width="1.2"/>
<line x1="55.40" y1="394.50" x2="57.30" y2="394.50" stroke="#7a7a7a" stroke-width="1.1"/>
<line x1="55.40" y1="406.50" x2="57.30" y2="406.50" stroke="#7a7a7a" stroke-width="1.1"/>
<line x1="55.40" y1="419.50" x2="57.30" y2="419.50" stroke="#7a7a7a" stroke-width="1.1"/>
<line x1="55.40" y1="431.50" x2="57.30" y2="431.50" stroke="#7a7a7a" stroke-width="1.1"/>
<line x1="55.40" y1="455.50" x2="57.30" y2="455.50" stroke="#7a7a7a" stroke-width="1.1"/>
<line x1="55.40" y1="467.50" x2="57.30" y2="467.50" stroke="#7a7a7a" stroke-width="1.1"/>
<line x1="55.40" y1="479.50" x2="57.30" y2="479.50" stroke="#7a7a7a" stroke-width="1.1"/>
<line x1="55.40" y1="491.50" x2="57.30" y2="491.50" stroke="#7a7a7a" stroke-width="1.1"/>
<line x1="55.40" y1="382.50" x2="57.30" y2="382.50" stroke="#7a7a7a" stroke-width="1.1"/>
<line x1="55.40" y1="504.50" x2="57.30" y2="504.50" stroke="#7a7a7a" stroke-width="1.1"/>
<text x="49.54" y="516.90" font-size="11.00" textLength="16.53" lengthAdjust="spacingAndGlyphs" fill="#fff" stroke="#fff" stroke-opacity="0.8" stroke-width="2.4" stroke-linejoin="round">0.0</text>
<text x="49.54" y="516.90" font-size="11.00" textLength="16.53" lengthAdjust="spacingAndGlyphs" fill="#1e1e1e" stroke="#1e1e1e" stroke-width="0.15">0.0</text>
<text x="165.57" y="516.90" font-size="11.00" textLength="16.57" lengthAdjust="spacingAndGlyphs" fill="#fff" stroke="#fff" stroke-opacity="0.8" stroke-width="2.4" stroke-linejoin="round">0.5</text>
<text x="165.57" y="516.90" font-size="11.00" textLength="16.57" lengthAdjust="spacingAndGlyphs" fill="#1e1e1e" stroke="#1e1e1e" stroke-width="0.15">0.5</text>
<text x="281.13" y="516.90" font-size="11.00" textLength="17.01" lengthAdjust="spacingAndGlyphs" fill="#fff" stroke="#fff" stroke-opacity="0.8" stroke-width="2.4" stroke-linejoin="round">1.0</text>
<text x="281.13" y="516.90" font-size="11.00" textLength="17.01" lengthAdjust="spacingAndGlyphs" fill="#1e1e1e" stroke="#1e1e1e" stroke-width="0.15">1.0</text>
<text x="397.17" y="516.90" font-size="11.00" textLength="17.05" lengthAdjust="spacingAndGlyphs" fill="#fff" stroke="#fff" stroke-opacity="0.8" stroke-width="2.4" stroke-linejoin="round">1.5</text>
<text x="397.17" y="516.90" font-size="11.00" textLength="17.05" lengthAdjust="spacingAndGlyphs" fill="#1e1e1e" stroke="#1e1e1e" stroke-width="0.15">1.5</text>
<text x="513.53" y="516.90" font-size="11.00" textLength="16.67" lengthAdjust="spacingAndGlyphs" fill="#fff" stroke="#fff" stroke-opacity="0.8" stroke-width="2.4" stroke-linejoin="round">2.0</text>
<text x="513.53" y="516.90" font-size="11.00" textLength="16.67" lengthAdjust="spacingAndGlyphs" fill="#1e1e1e" stroke="#1e1e1e" stroke-width="0.15">2.0</text>
<text x="629.56" y="516.90" font-size="11.00" textLength="16.71" lengthAdjust="spacingAndGlyphs" fill="#fff" stroke="#fff" stroke-opacity="0.8" stroke-width="2.4" stroke-linejoin="round">2.5</text>
<text x="629.56" y="516.90" font-size="11.00" textLength="16.71" lengthAdjust="spacingAndGlyphs" fill="#1e1e1e" stroke="#1e1e1e" stroke-width="0.15">2.5</text>
<text x="745.75" y="516.90" font-size="11.00" textLength="16.52" lengthAdjust="spacingAndGlyphs" fill="#fff" stroke="#fff" stroke-opacity="0.8" stroke-width="2.4" stroke-linejoin="round">3.0</text>
<text x="745.75" y="516.90" font-size="11.00" textLength="16.52" lengthAdjust="spacingAndGlyphs" fill="#1e1e1e" stroke="#1e1e1e" stroke-width="0.15">3.0</text>
<text x="25.71" y="387.30" font-size="11.00" textLength="29.18" lengthAdjust="spacingAndGlyphs" fill="#fff" stroke="#fff" stroke-opacity="0.8" stroke-width="2.4" stroke-linejoin="round">0.005</text>
<text x="25.71" y="387.30" font-size="11.00" textLength="29.18" lengthAdjust="spacingAndGlyphs" fill="#1e1e1e" stroke="#1e1e1e" stroke-width="0.15">0.005</text>
<text x="25.56" y="399.43" font-size="11.00" textLength="29.18" lengthAdjust="spacingAndGlyphs" fill="#fff" stroke="#fff" stroke-opacity="0.8" stroke-width="2.4" stroke-linejoin="round">0.004</text>
<text x="25.56" y="399.43" font-size="11.00" textLength="29.18" lengthAdjust="spacingAndGlyphs" fill="#1e1e1e" stroke="#1e1e1e" stroke-width="0.15">0.004</text>
<text x="25.73" y="411.56" font-size="11.00" textLength="29.18" lengthAdjust="spacingAndGlyphs" fill="#fff" stroke="#fff" stroke-opacity="0.8" stroke-width="2.4" stroke-linejoin="round">0.003</text>
<text x="25.73" y="411.56" font-size="11.00" textLength="29.18" lengthAdjust="spacingAndGlyphs" fill="#1e1e1e" stroke="#1e1e1e" stroke-width="0.15">0.003</text>
<text x="25.81" y="423.69" font-size="11.00" textLength="29.18" lengthAdjust="spacingAndGlyphs" fill="#fff" stroke="#fff" stroke-opacity="0.8" stroke-width="2.4" stroke-linejoin="round">0.002</text>
<text x="25.81" y="423.69" font-size="11.00" textLength="29.18" lengthAdjust="spacingAndGlyphs" fill="#1e1e1e" stroke="#1e1e1e" stroke-width="0.15">0.002</text>
<text x="25.79" y="435.82" font-size="11.00" textLength="29.18" lengthAdjust="spacingAndGlyphs" fill="#fff" stroke="#fff" stroke-opacity="0.8" stroke-width="2.4" stroke-linejoin="round">0.001</text>
<text x="25.79" y="435.82" font-size="11.00" textLength="29.18" lengthAdjust="spacingAndGlyphs" fill="#1e1e1e" stroke="#1e1e1e" stroke-width="0.15">0.001</text>
<text x="25.68" y="447.95" font-size="11.00" textLength="29.18" lengthAdjust="spacingAndGlyphs" fill="#fff" stroke="#fff" stroke-opacity="0.8" stroke-width="2.4" stroke-linejoin="round">0.000</text>
<text x="25.68" y="447.95" font-size="11.00" textLength="29.18" lengthAdjust="spacingAndGlyphs" fill="#1e1e1e" stroke="#1e1e1e" stroke-width="0.15">0.000</text>
<text x="25.79" y="460.08" font-size="11.00" textLength="29.18" lengthAdjust="spacingAndGlyphs" fill="#fff" stroke="#fff" stroke-opacity="0.8" stroke-width="2.4" stroke-linejoin="round">0.001</text>
<text x="25.79" y="460.08" font-size="11.00" textLength="29.18" lengthAdjust="spacingAndGlyphs" fill="#1e1e1e" stroke="#1e1e1e" stroke-width="0.15">0.001</text>
<rect x="23.05" y="455.48" width="2.6" height="3.2" fill="#fff" opacity="0.7"/>
<rect x="23.25" y="456.48" width="2.3" height="1.2" fill="#1e1e1e"/>
<text x="25.81" y="472.21" font-size="11.00" textLength="29.18" lengthAdjust="spacingAndGlyphs" fill="#fff" stroke="#fff" stroke-opacity="0.8" stroke-width="2.4" stroke-linejoin="round">0.002</text>
<text x="25.81" y="472.21" font-size="11.00" textLength="29.18" lengthAdjust="spacingAndGlyphs" fill="#1e1e1e" stroke="#1e1e1e" stroke-width="0.15">0.002</text>
<rect x="23.06" y="467.61" width="2.6" height="3.2" fill="#fff" opacity="0.7"/>
<rect x="23.26" y="468.61" width="2.3" height="1.2" fill="#1e1e1e"/>
<text x="25.73" y="484.34" font-size="11.00" textLength="29.18" lengthAdjust="spacingAndGlyphs" fill="#fff" stroke="#fff" stroke-opacity="0.8" stroke-width="2.4" stroke-linejoin="round">0.003</text>
<text x="25.73" y="484.34" font-size="11.00" textLength="29.18" lengthAdjust="spacingAndGlyphs" fill="#1e1e1e" stroke="#1e1e1e" stroke-width="0.15">0.003</text>
<rect x="22.99" y="479.74" width="2.6" height="3.2" fill="#fff" opacity="0.7"/>
<rect x="23.19" y="480.74" width="2.3" height="1.2" fill="#1e1e1e"/>
<text x="25.56" y="496.47" font-size="11.00" textLength="29.18" lengthAdjust="spacingAndGlyphs" fill="#fff" stroke="#fff" stroke-opacity="0.8" stroke-width="2.4" stroke-linejoin="round">0.004</text>
<text x="25.56" y="496.47" font-size="11.00" textLength="29.18" lengthAdjust="spacingAndGlyphs" fill="#1e1e1e" stroke="#1e1e1e" stroke-width="0.15">0.004</text>
<rect x="22.82" y="491.87" width="2.6" height="3.2" fill="#fff" opacity="0.7"/>
<rect x="23.02" y="492.87" width="2.3" height="1.2" fill="#1e1e1e"/>
<text x="25.71" y="508.60" font-size="11.00" textLength="29.18" lengthAdjust="spacingAndGlyphs" fill="#fff" stroke="#fff" stroke-opacity="0.8" stroke-width="2.4" stroke-linejoin="round">0.005</text>
<text x="25.71" y="508.60" font-size="11.00" textLength="29.18" lengthAdjust="spacingAndGlyphs" fill="#1e1e1e" stroke="#1e1e1e" stroke-width="0.15">0.005</text>
<rect x="22.97" y="504.00" width="2.6" height="3.2" fill="#fff" opacity="0.7"/>
<rect x="23.17" y="505.00" width="2.3" height="1.2" fill="#1e1e1e"/>
<text x="389.69" y="530.70" font-size="13.20" textLength="31.14" lengthAdjust="spacingAndGlyphs" fill="#fff" stroke="#fff" stroke-opacity="0.8" stroke-width="2.4" stroke-linejoin="round">Time</text>
<text x="389.69" y="530.70" font-size="13.20" textLength="31.14" lengthAdjust="spacingAndGlyphs" fill="#1e1e1e" stroke="#1e1e1e" stroke-width="0.30">Time</text>
<text transform="translate(15.10 478.01) rotate(-90)" x="0" y="0" font-size="13.10" textLength="73.49" lengthAdjust="spacingAndGlyphs" fill="#fff" stroke="#fff" stroke-opacity="0.8" stroke-width="2.4" stroke-linejoin="round">Expressions</text>
<text transform="translate(15.10 478.01) rotate(-90)" x="0" y="0" font-size="13.10" textLength="73.49" lengthAdjust="spacingAndGlyphs" fill="#1e1e1e" stroke="#1e1e1e" stroke-width="0.30">Expressions</text>
<text x="255.16" y="374.30" font-size="15.50" textLength="299.74" lengthAdjust="spacingAndGlyphs" fill="#fff" stroke="#fff" stroke-opacity="0.8" stroke-width="2.4" stroke-linejoin="round">REQ/70000016 Output Pendu rotation - F2</text>
<text x="255.16" y="374.30" font-size="15.50" textLength="299.74" lengthAdjust="spacingAndGlyphs" fill="#1e1e1e" stroke="#1e1e1e" stroke-width="0.30">REQ/70000016 Output Pendu rotation - F2</text>
<rect x="486.45" y="385.50" width="263.85" height="17.70" fill="#fff" stroke="#555" stroke-width="1.3"/>
<line x1="490.65" y1="393.80" x2="522.45" y2="393.80" stroke="#5075d8" stroke-width="2"/>
<text x="524.59" y="397.60" font-size="11.00" textLength="222.70" lengthAdjust="spacingAndGlyphs" fill="#3d64d2" stroke="#3d64d2" stroke-width="0.30">REQ/70000016 Output Pendu rotation - F2</text>
<rect x="0" y="0" width="764" height="2" fill="#6ff6f6"/><rect x="1" y="0" width="1" height="180" fill="#6ff6f6"/><rect x="762" y="0" width="2" height="180" fill="#6ff6f6"/><rect x="1" y="179" width="763" height="1.2" fill="#6ff6f6"/>
</svg></body></html>
